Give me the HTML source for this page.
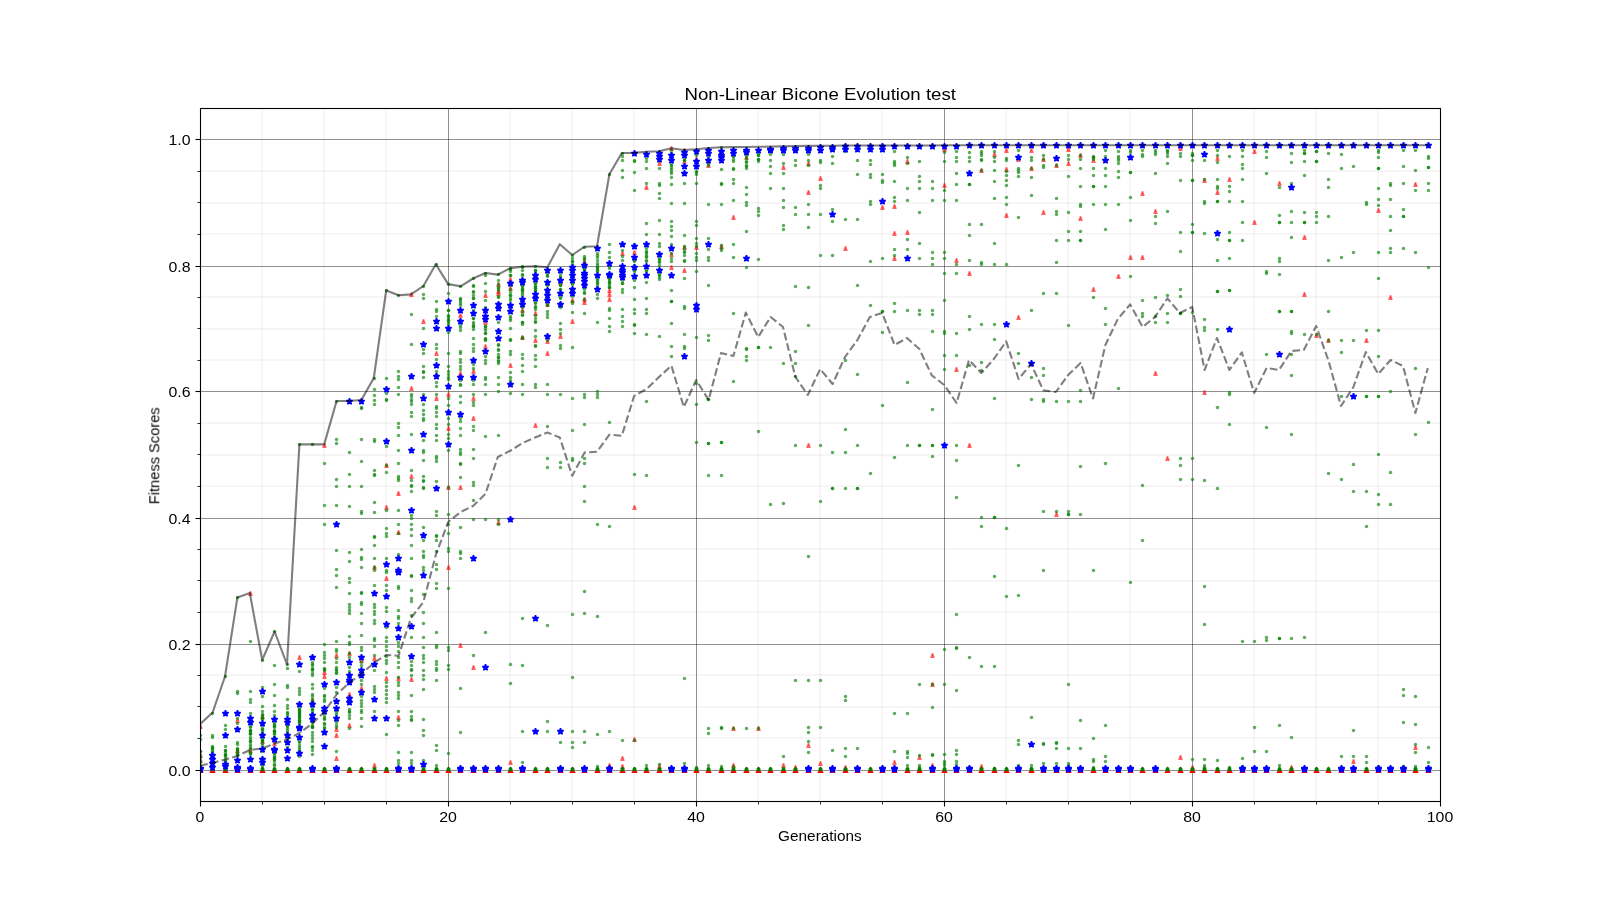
<!DOCTYPE html><html><head><meta charset="utf-8"><title>Non-Linear Bicone Evolution test</title>
<style>html,body{margin:0;padding:0;background:#fff;}body{width:1600px;height:900px;overflow:hidden;font-family:"Liberation Sans",sans-serif;}svg{display:block}text{font-family:"Liberation Sans",sans-serif;fill:#000}</style></head><body>
<svg width="1600" height="900" viewBox="0 0 1600 900">
<defs>
<clipPath id="c"><rect x="200.5" y="108.5" width="1240.0" height="693.0"/></clipPath>
<circle id="d" r="1.72" fill="#008000" fill-opacity="0.64"/>
<path id="t" d="M-0.25,-1.8L0.25,-1.8L1.47,1.9L-1.47,1.9Z" fill="#ff0000" fill-opacity="0.5" stroke="#ff0000" stroke-opacity="0.5" stroke-width="1.39" stroke-linejoin="miter"/>
<path id="s" d="M0.00,-3.30L0.74,-1.02L3.14,-1.02L1.20,0.39L1.94,2.67L0.00,1.26L-1.94,2.67L-1.20,0.39L-3.14,-1.02L-0.74,-1.02Z" fill="#0000ff" stroke="#0000ff" stroke-width="1.5" stroke-linejoin="bevel"/>
<path id="T" d="M0,-3.5L3.2,3.1L-3.2,3.1Z" fill="#ff0000"/>
<circle id="G" r="1.95" fill="#008000"/>
</defs>
<rect width="1600" height="900" fill="#fff"/>
<g stroke="#000" stroke-opacity="0.037" stroke-width="2">
<line x1="262.0" y1="108.5" x2="262.0" y2="801.5"/>
<line x1="324.0" y1="108.5" x2="324.0" y2="801.5"/>
<line x1="386.0" y1="108.5" x2="386.0" y2="801.5"/>
<line x1="510.0" y1="108.5" x2="510.0" y2="801.5"/>
<line x1="572.0" y1="108.5" x2="572.0" y2="801.5"/>
<line x1="634.0" y1="108.5" x2="634.0" y2="801.5"/>
<line x1="758.0" y1="108.5" x2="758.0" y2="801.5"/>
<line x1="820.0" y1="108.5" x2="820.0" y2="801.5"/>
<line x1="882.0" y1="108.5" x2="882.0" y2="801.5"/>
<line x1="1006.0" y1="108.5" x2="1006.0" y2="801.5"/>
<line x1="1068.0" y1="108.5" x2="1068.0" y2="801.5"/>
<line x1="1130.0" y1="108.5" x2="1130.0" y2="801.5"/>
<line x1="1254.0" y1="108.5" x2="1254.0" y2="801.5"/>
<line x1="1316.0" y1="108.5" x2="1316.0" y2="801.5"/>
<line x1="1378.0" y1="108.5" x2="1378.0" y2="801.5"/>
<line x1="200.5" y1="738.0" x2="1440.5" y2="738.0"/>
<line x1="200.5" y1="707.0" x2="1440.5" y2="707.0"/>
<line x1="200.5" y1="675.0" x2="1440.5" y2="675.0"/>
<line x1="200.5" y1="612.0" x2="1440.5" y2="612.0"/>
<line x1="200.5" y1="581.0" x2="1440.5" y2="581.0"/>
<line x1="200.5" y1="549.0" x2="1440.5" y2="549.0"/>
<line x1="200.5" y1="486.0" x2="1440.5" y2="486.0"/>
<line x1="200.5" y1="455.0" x2="1440.5" y2="455.0"/>
<line x1="200.5" y1="423.0" x2="1440.5" y2="423.0"/>
<line x1="200.5" y1="360.0" x2="1440.5" y2="360.0"/>
<line x1="200.5" y1="329.0" x2="1440.5" y2="329.0"/>
<line x1="200.5" y1="297.0" x2="1440.5" y2="297.0"/>
<line x1="200.5" y1="234.0" x2="1440.5" y2="234.0"/>
<line x1="200.5" y1="203.0" x2="1440.5" y2="203.0"/>
<line x1="200.5" y1="171.0" x2="1440.5" y2="171.0"/>
</g>
<g stroke="#000" stroke-opacity="0.43" stroke-width="1">
<line x1="448.5" y1="108.5" x2="448.5" y2="801.5"/>
<line x1="696.5" y1="108.5" x2="696.5" y2="801.5"/>
<line x1="944.5" y1="108.5" x2="944.5" y2="801.5"/>
<line x1="1192.5" y1="108.5" x2="1192.5" y2="801.5"/>
<line x1="200.5" y1="770.5" x2="1440.5" y2="770.5"/>
<line x1="200.5" y1="644.5" x2="1440.5" y2="644.5"/>
<line x1="200.5" y1="518.5" x2="1440.5" y2="518.5"/>
<line x1="200.5" y1="391.5" x2="1440.5" y2="391.5"/>
<line x1="200.5" y1="266.5" x2="1440.5" y2="266.5"/>
<line x1="200.5" y1="139.5" x2="1440.5" y2="139.5"/>
</g>
<g clip-path="url(#c)">
<use href="#T" x="200.5" y="769.9"/><use href="#T" x="212.5" y="769.9"/><use href="#T" x="225.5" y="769.9"/><use href="#T" x="237.5" y="769.9"/><use href="#T" x="250.5" y="769.9"/><use href="#T" x="262.5" y="769.9"/><use href="#T" x="274.5" y="769.9"/><use href="#T" x="287.5" y="769.9"/><use href="#T" x="299.5" y="769.9"/><use href="#T" x="312.5" y="769.9"/><use href="#T" x="324.5" y="769.9"/><use href="#T" x="336.5" y="769.9"/><use href="#T" x="349.5" y="769.9"/><use href="#T" x="361.5" y="769.9"/><use href="#T" x="374.5" y="769.9"/><use href="#T" x="386.5" y="769.9"/><use href="#T" x="398.5" y="769.9"/><use href="#T" x="411.5" y="769.9"/><use href="#T" x="423.5" y="769.9"/><use href="#T" x="436.5" y="769.9"/><use href="#T" x="448.5" y="769.9"/><use href="#T" x="460.5" y="769.9"/><use href="#T" x="473.5" y="769.9"/><use href="#T" x="485.5" y="769.9"/><use href="#T" x="498.5" y="769.9"/><use href="#T" x="510.5" y="769.9"/><use href="#T" x="522.5" y="769.9"/><use href="#T" x="535.5" y="769.9"/><use href="#T" x="547.5" y="769.9"/><use href="#T" x="560.5" y="769.9"/><use href="#T" x="572.5" y="769.9"/><use href="#T" x="584.5" y="769.9"/><use href="#T" x="597.5" y="769.9"/><use href="#T" x="609.5" y="769.9"/><use href="#T" x="622.5" y="769.9"/><use href="#T" x="634.5" y="769.9"/><use href="#T" x="646.5" y="769.9"/><use href="#T" x="659.5" y="769.9"/><use href="#T" x="671.5" y="769.9"/><use href="#T" x="684.5" y="769.9"/><use href="#T" x="696.5" y="769.9"/><use href="#T" x="708.5" y="769.9"/><use href="#T" x="721.5" y="769.9"/><use href="#T" x="733.5" y="769.9"/><use href="#T" x="746.5" y="769.9"/><use href="#T" x="758.5" y="769.9"/><use href="#T" x="770.5" y="769.9"/><use href="#T" x="783.5" y="769.9"/><use href="#T" x="795.5" y="769.9"/><use href="#T" x="808.5" y="769.9"/><use href="#T" x="820.5" y="769.9"/><use href="#T" x="832.5" y="769.9"/><use href="#T" x="845.5" y="769.9"/><use href="#T" x="857.5" y="769.9"/><use href="#T" x="870.5" y="769.9"/><use href="#T" x="882.5" y="769.9"/><use href="#T" x="894.5" y="769.9"/><use href="#T" x="907.5" y="769.9"/><use href="#T" x="919.5" y="769.9"/><use href="#T" x="932.5" y="769.9"/><use href="#T" x="944.5" y="769.9"/><use href="#T" x="956.5" y="769.9"/><use href="#T" x="969.5" y="769.9"/><use href="#T" x="981.5" y="769.9"/><use href="#T" x="994.5" y="769.9"/><use href="#T" x="1006.5" y="769.9"/><use href="#T" x="1018.5" y="769.9"/><use href="#T" x="1031.5" y="769.9"/><use href="#T" x="1043.5" y="769.9"/><use href="#T" x="1056.5" y="769.9"/><use href="#T" x="1068.5" y="769.9"/><use href="#T" x="1080.5" y="769.9"/><use href="#T" x="1093.5" y="769.9"/><use href="#T" x="1105.5" y="769.9"/><use href="#T" x="1118.5" y="769.9"/><use href="#T" x="1130.5" y="769.9"/><use href="#T" x="1142.5" y="769.9"/><use href="#T" x="1155.5" y="769.9"/><use href="#T" x="1167.5" y="769.9"/><use href="#T" x="1180.5" y="769.9"/><use href="#T" x="1192.5" y="769.9"/><use href="#T" x="1204.5" y="769.9"/><use href="#T" x="1217.5" y="769.9"/><use href="#T" x="1229.5" y="769.9"/><use href="#T" x="1242.5" y="769.9"/><use href="#T" x="1254.5" y="769.9"/><use href="#T" x="1266.5" y="769.9"/><use href="#T" x="1279.5" y="769.9"/><use href="#T" x="1291.5" y="769.9"/><use href="#T" x="1304.5" y="769.9"/><use href="#T" x="1316.5" y="769.9"/><use href="#T" x="1328.5" y="769.9"/><use href="#T" x="1341.5" y="769.9"/><use href="#T" x="1353.5" y="769.9"/><use href="#T" x="1366.5" y="769.9"/><use href="#T" x="1378.5" y="769.9"/><use href="#T" x="1390.5" y="769.9"/><use href="#T" x="1403.5" y="769.9"/><use href="#T" x="1415.5" y="769.9"/><use href="#T" x="1428.5" y="769.9"/>
<use href="#t" x="200.5" y="726.5"/><use href="#t" x="200.5" y="755.5"/><use href="#t" x="200.5" y="760.5"/><use href="#t" x="237.5" y="720.5"/><use href="#t" x="237.5" y="750.5"/><use href="#t" x="250.5" y="593.5"/><use href="#t" x="250.5" y="750.5"/><use href="#t" x="262.5" y="716.5"/><use href="#t" x="262.5" y="741.5"/><use href="#t" x="274.5" y="743.5"/><use href="#t" x="299.5" y="657.5"/><use href="#t" x="312.5" y="700.5"/><use href="#t" x="324.5" y="445.5"/><use href="#t" x="324.5" y="672.5"/><use href="#t" x="324.5" y="676.5"/><use href="#t" x="336.5" y="729.5"/><use href="#t" x="336.5" y="735.5"/><use href="#t" x="336.5" y="758.5"/><use href="#t" x="336.5" y="655.5"/><use href="#t" x="349.5" y="694.5"/><use href="#t" x="349.5" y="725.5"/><use href="#t" x="349.5" y="653.5"/><use href="#t" x="361.5" y="660.5"/><use href="#t" x="361.5" y="688.5"/><use href="#t" x="374.5" y="567.5"/><use href="#t" x="374.5" y="658.5"/><use href="#t" x="374.5" y="765.5"/><use href="#t" x="386.5" y="465.5"/><use href="#t" x="386.5" y="507.5"/><use href="#t" x="386.5" y="578.5"/><use href="#t" x="386.5" y="678.5"/><use href="#t" x="398.5" y="493.5"/><use href="#t" x="398.5" y="532.5"/><use href="#t" x="398.5" y="678.5"/><use href="#t" x="398.5" y="717.5"/><use href="#t" x="411.5" y="294.5"/><use href="#t" x="411.5" y="388.5"/><use href="#t" x="411.5" y="476.5"/><use href="#t" x="411.5" y="679.5"/><use href="#t" x="423.5" y="321.5"/><use href="#t" x="436.5" y="353.5"/><use href="#t" x="436.5" y="398.5"/><use href="#t" x="448.5" y="394.5"/><use href="#t" x="448.5" y="428.5"/><use href="#t" x="448.5" y="487.5"/><use href="#t" x="448.5" y="567.5"/><use href="#t" x="460.5" y="315.5"/><use href="#t" x="460.5" y="373.5"/><use href="#t" x="460.5" y="487.5"/><use href="#t" x="460.5" y="645.5"/><use href="#t" x="473.5" y="371.5"/><use href="#t" x="473.5" y="398.5"/><use href="#t" x="473.5" y="418.5"/><use href="#t" x="473.5" y="667.5"/><use href="#t" x="485.5" y="295.5"/><use href="#t" x="485.5" y="322.5"/><use href="#t" x="485.5" y="346.5"/><use href="#t" x="498.5" y="284.5"/><use href="#t" x="498.5" y="291.5"/><use href="#t" x="498.5" y="293.5"/><use href="#t" x="498.5" y="522.5"/><use href="#t" x="510.5" y="288.5"/><use href="#t" x="510.5" y="365.5"/><use href="#t" x="510.5" y="762.5"/><use href="#t" x="510.5" y="279.5"/><use href="#t" x="522.5" y="310.5"/><use href="#t" x="522.5" y="337.5"/><use href="#t" x="535.5" y="313.5"/><use href="#t" x="535.5" y="340.5"/><use href="#t" x="535.5" y="425.5"/><use href="#t" x="547.5" y="304.5"/><use href="#t" x="547.5" y="341.5"/><use href="#t" x="547.5" y="353.5"/><use href="#t" x="560.5" y="282.5"/><use href="#t" x="560.5" y="336.5"/><use href="#t" x="572.5" y="300.5"/><use href="#t" x="572.5" y="321.5"/><use href="#t" x="584.5" y="261.5"/><use href="#t" x="584.5" y="299.5"/><use href="#t" x="584.5" y="302.5"/><use href="#t" x="609.5" y="290.5"/><use href="#t" x="609.5" y="294.5"/><use href="#t" x="609.5" y="299.5"/><use href="#t" x="609.5" y="765.5"/><use href="#t" x="622.5" y="253.5"/><use href="#t" x="622.5" y="758.5"/><use href="#t" x="622.5" y="766.5"/><use href="#t" x="634.5" y="252.5"/><use href="#t" x="634.5" y="507.5"/><use href="#t" x="634.5" y="739.5"/><use href="#t" x="646.5" y="187.5"/><use href="#t" x="659.5" y="766.5"/><use href="#t" x="659.5" y="163.5"/><use href="#t" x="671.5" y="148.5"/><use href="#t" x="671.5" y="254.5"/><use href="#t" x="671.5" y="267.5"/><use href="#t" x="684.5" y="150.5"/><use href="#t" x="684.5" y="161.5"/><use href="#t" x="684.5" y="247.5"/><use href="#t" x="684.5" y="270.5"/><use href="#t" x="696.5" y="159.5"/><use href="#t" x="696.5" y="247.5"/><use href="#t" x="708.5" y="165.5"/><use href="#t" x="721.5" y="246.5"/><use href="#t" x="733.5" y="728.5"/><use href="#t" x="733.5" y="765.5"/><use href="#t" x="733.5" y="217.5"/><use href="#t" x="746.5" y="157.5"/><use href="#t" x="758.5" y="728.5"/><use href="#t" x="783.5" y="765.5"/><use href="#t" x="783.5" y="167.5"/><use href="#t" x="795.5" y="767.5"/><use href="#t" x="808.5" y="745.5"/><use href="#t" x="808.5" y="163.5"/><use href="#t" x="808.5" y="192.5"/><use href="#t" x="808.5" y="445.5"/><use href="#t" x="820.5" y="763.5"/><use href="#t" x="820.5" y="178.5"/><use href="#t" x="845.5" y="767.5"/><use href="#t" x="845.5" y="248.5"/><use href="#t" x="882.5" y="207.5"/><use href="#t" x="894.5" y="762.5"/><use href="#t" x="894.5" y="206.5"/><use href="#t" x="894.5" y="233.5"/><use href="#t" x="894.5" y="258.5"/><use href="#t" x="907.5" y="161.5"/><use href="#t" x="907.5" y="232.5"/><use href="#t" x="919.5" y="757.5"/><use href="#t" x="932.5" y="655.5"/><use href="#t" x="932.5" y="684.5"/><use href="#t" x="932.5" y="765.5"/><use href="#t" x="944.5" y="149.5"/><use href="#t" x="944.5" y="185.5"/><use href="#t" x="956.5" y="260.5"/><use href="#t" x="956.5" y="369.5"/><use href="#t" x="969.5" y="273.5"/><use href="#t" x="969.5" y="445.5"/><use href="#t" x="981.5" y="766.5"/><use href="#t" x="981.5" y="170.5"/><use href="#t" x="994.5" y="154.5"/><use href="#t" x="1006.5" y="150.5"/><use href="#t" x="1006.5" y="169.5"/><use href="#t" x="1006.5" y="215.5"/><use href="#t" x="1018.5" y="159.5"/><use href="#t" x="1018.5" y="317.5"/><use href="#t" x="1031.5" y="150.5"/><use href="#t" x="1031.5" y="168.5"/><use href="#t" x="1043.5" y="159.5"/><use href="#t" x="1043.5" y="212.5"/><use href="#t" x="1056.5" y="165.5"/><use href="#t" x="1056.5" y="514.5"/><use href="#t" x="1068.5" y="149.5"/><use href="#t" x="1068.5" y="163.5"/><use href="#t" x="1080.5" y="155.5"/><use href="#t" x="1080.5" y="218.5"/><use href="#t" x="1093.5" y="160.5"/><use href="#t" x="1093.5" y="289.5"/><use href="#t" x="1118.5" y="276.5"/><use href="#t" x="1130.5" y="257.5"/><use href="#t" x="1142.5" y="193.5"/><use href="#t" x="1142.5" y="257.5"/><use href="#t" x="1155.5" y="211.5"/><use href="#t" x="1155.5" y="373.5"/><use href="#t" x="1167.5" y="458.5"/><use href="#t" x="1180.5" y="757.5"/><use href="#t" x="1180.5" y="148.5"/><use href="#t" x="1192.5" y="767.5"/><use href="#t" x="1204.5" y="180.5"/><use href="#t" x="1204.5" y="392.5"/><use href="#t" x="1217.5" y="158.5"/><use href="#t" x="1217.5" y="192.5"/><use href="#t" x="1229.5" y="179.5"/><use href="#t" x="1254.5" y="151.5"/><use href="#t" x="1254.5" y="222.5"/><use href="#t" x="1279.5" y="183.5"/><use href="#t" x="1291.5" y="767.5"/><use href="#t" x="1304.5" y="237.5"/><use href="#t" x="1304.5" y="294.5"/><use href="#t" x="1316.5" y="335.5"/><use href="#t" x="1328.5" y="340.5"/><use href="#t" x="1353.5" y="761.5"/><use href="#t" x="1366.5" y="340.5"/><use href="#t" x="1378.5" y="210.5"/><use href="#t" x="1390.5" y="297.5"/><use href="#t" x="1415.5" y="747.5"/><use href="#t" x="1415.5" y="184.5"/>
<use href="#d" x="200.5" y="735.5"/><use href="#d" x="200.5" y="739.5"/><use href="#d" x="200.5" y="751.5"/><use href="#d" x="200.5" y="757.5"/><use href="#d" x="200.5" y="762.5"/><use href="#d" x="200.5" y="766.5"/><use href="#d" x="200.5" y="751.5"/><use href="#d" x="200.5" y="755.5"/><use href="#d" x="200.5" y="760.5"/><use href="#d" x="200.5" y="766.5"/><use href="#d" x="200.5" y="768.5"/><use href="#d" x="212.5" y="713.5"/><use href="#d" x="212.5" y="735.5"/><use href="#d" x="212.5" y="737.5"/><use href="#d" x="212.5" y="746.5"/><use href="#d" x="212.5" y="748.5"/><use href="#d" x="212.5" y="749.5"/><use href="#d" x="212.5" y="751.5"/><use href="#d" x="212.5" y="747.5"/><use href="#d" x="212.5" y="752.5"/><use href="#d" x="212.5" y="755.5"/><use href="#d" x="212.5" y="762.5"/><use href="#d" x="212.5" y="764.5"/><use href="#d" x="212.5" y="768.5"/><use href="#d" x="225.5" y="725.5"/><use href="#d" x="225.5" y="729.5"/><use href="#d" x="225.5" y="746.5"/><use href="#d" x="225.5" y="750.5"/><use href="#d" x="225.5" y="752.5"/><use href="#d" x="225.5" y="754.5"/><use href="#d" x="225.5" y="755.5"/><use href="#d" x="225.5" y="757.5"/><use href="#d" x="225.5" y="676.5"/><use href="#d" x="225.5" y="750.5"/><use href="#d" x="225.5" y="755.5"/><use href="#d" x="225.5" y="760.5"/><use href="#d" x="225.5" y="761.5"/><use href="#d" x="225.5" y="766.5"/><use href="#d" x="225.5" y="768.5"/><use href="#d" x="237.5" y="597.5"/><use href="#d" x="237.5" y="691.5"/><use href="#d" x="237.5" y="693.5"/><use href="#d" x="237.5" y="718.5"/><use href="#d" x="237.5" y="723.5"/><use href="#d" x="237.5" y="742.5"/><use href="#d" x="237.5" y="744.5"/><use href="#d" x="237.5" y="748.5"/><use href="#d" x="237.5" y="749.5"/><use href="#d" x="237.5" y="752.5"/><use href="#d" x="237.5" y="754.5"/><use href="#d" x="237.5" y="755.5"/><use href="#d" x="237.5" y="750.5"/><use href="#d" x="237.5" y="753.5"/><use href="#d" x="237.5" y="760.5"/><use href="#d" x="237.5" y="767.5"/><use href="#d" x="237.5" y="768.5"/><use href="#d" x="250.5" y="691.5"/><use href="#d" x="250.5" y="699.5"/><use href="#d" x="250.5" y="702.5"/><use href="#d" x="250.5" y="713.5"/><use href="#d" x="250.5" y="726.5"/><use href="#d" x="250.5" y="727.5"/><use href="#d" x="250.5" y="730.5"/><use href="#d" x="250.5" y="731.5"/><use href="#d" x="250.5" y="733.5"/><use href="#d" x="250.5" y="734.5"/><use href="#d" x="250.5" y="737.5"/><use href="#d" x="250.5" y="739.5"/><use href="#d" x="250.5" y="741.5"/><use href="#d" x="250.5" y="746.5"/><use href="#d" x="250.5" y="748.5"/><use href="#d" x="250.5" y="749.5"/><use href="#d" x="250.5" y="752.5"/><use href="#d" x="250.5" y="753.5"/><use href="#d" x="250.5" y="641.5"/><use href="#d" x="250.5" y="730.5"/><use href="#d" x="250.5" y="733.5"/><use href="#d" x="250.5" y="741.5"/><use href="#d" x="250.5" y="744.5"/><use href="#d" x="250.5" y="754.5"/><use href="#d" x="250.5" y="768.5"/><use href="#d" x="262.5" y="696.5"/><use href="#d" x="262.5" y="706.5"/><use href="#d" x="262.5" y="711.5"/><use href="#d" x="262.5" y="714.5"/><use href="#d" x="262.5" y="715.5"/><use href="#d" x="262.5" y="717.5"/><use href="#d" x="262.5" y="719.5"/><use href="#d" x="262.5" y="728.5"/><use href="#d" x="262.5" y="729.5"/><use href="#d" x="262.5" y="730.5"/><use href="#d" x="262.5" y="732.5"/><use href="#d" x="262.5" y="738.5"/><use href="#d" x="262.5" y="740.5"/><use href="#d" x="262.5" y="741.5"/><use href="#d" x="262.5" y="743.5"/><use href="#d" x="262.5" y="745.5"/><use href="#d" x="262.5" y="764.5"/><use href="#d" x="262.5" y="766.5"/><use href="#d" x="262.5" y="660.5"/><use href="#d" x="262.5" y="687.5"/><use href="#d" x="262.5" y="718.5"/><use href="#d" x="262.5" y="725.5"/><use href="#d" x="262.5" y="735.5"/><use href="#d" x="262.5" y="740.5"/><use href="#d" x="262.5" y="751.5"/><use href="#d" x="262.5" y="758.5"/><use href="#d" x="262.5" y="768.5"/><use href="#d" x="274.5" y="631.5"/><use href="#d" x="274.5" y="695.5"/><use href="#d" x="274.5" y="705.5"/><use href="#d" x="274.5" y="711.5"/><use href="#d" x="274.5" y="715.5"/><use href="#d" x="274.5" y="722.5"/><use href="#d" x="274.5" y="724.5"/><use href="#d" x="274.5" y="726.5"/><use href="#d" x="274.5" y="727.5"/><use href="#d" x="274.5" y="730.5"/><use href="#d" x="274.5" y="731.5"/><use href="#d" x="274.5" y="733.5"/><use href="#d" x="274.5" y="734.5"/><use href="#d" x="274.5" y="737.5"/><use href="#d" x="274.5" y="752.5"/><use href="#d" x="274.5" y="755.5"/><use href="#d" x="274.5" y="757.5"/><use href="#d" x="274.5" y="757.5"/><use href="#d" x="274.5" y="759.5"/><use href="#d" x="274.5" y="761.5"/><use href="#d" x="274.5" y="764.5"/><use href="#d" x="274.5" y="665.5"/><use href="#d" x="274.5" y="684.5"/><use href="#d" x="274.5" y="725.5"/><use href="#d" x="274.5" y="731.5"/><use href="#d" x="274.5" y="737.5"/><use href="#d" x="274.5" y="740.5"/><use href="#d" x="274.5" y="750.5"/><use href="#d" x="274.5" y="753.5"/><use href="#d" x="274.5" y="759.5"/><use href="#d" x="274.5" y="765.5"/><use href="#d" x="274.5" y="768.5"/><use href="#d" x="287.5" y="699.5"/><use href="#d" x="287.5" y="705.5"/><use href="#d" x="287.5" y="708.5"/><use href="#d" x="287.5" y="712.5"/><use href="#d" x="287.5" y="713.5"/><use href="#d" x="287.5" y="715.5"/><use href="#d" x="287.5" y="725.5"/><use href="#d" x="287.5" y="726.5"/><use href="#d" x="287.5" y="728.5"/><use href="#d" x="287.5" y="730.5"/><use href="#d" x="287.5" y="732.5"/><use href="#d" x="287.5" y="735.5"/><use href="#d" x="287.5" y="738.5"/><use href="#d" x="287.5" y="743.5"/><use href="#d" x="287.5" y="747.5"/><use href="#d" x="287.5" y="664.5"/><use href="#d" x="287.5" y="668.5"/><use href="#d" x="287.5" y="685.5"/><use href="#d" x="287.5" y="687.5"/><use href="#d" x="287.5" y="768.5"/><use href="#d" x="299.5" y="444.5"/><use href="#d" x="299.5" y="691.5"/><use href="#d" x="299.5" y="694.5"/><use href="#d" x="299.5" y="708.5"/><use href="#d" x="299.5" y="710.5"/><use href="#d" x="299.5" y="712.5"/><use href="#d" x="299.5" y="713.5"/><use href="#d" x="299.5" y="715.5"/><use href="#d" x="299.5" y="717.5"/><use href="#d" x="299.5" y="718.5"/><use href="#d" x="299.5" y="720.5"/><use href="#d" x="299.5" y="721.5"/><use href="#d" x="299.5" y="722.5"/><use href="#d" x="299.5" y="741.5"/><use href="#d" x="299.5" y="742.5"/><use href="#d" x="299.5" y="745.5"/><use href="#d" x="299.5" y="747.5"/><use href="#d" x="299.5" y="749.5"/><use href="#d" x="299.5" y="751.5"/><use href="#d" x="299.5" y="756.5"/><use href="#d" x="299.5" y="671.5"/><use href="#d" x="299.5" y="688.5"/><use href="#d" x="299.5" y="709.5"/><use href="#d" x="299.5" y="711.5"/><use href="#d" x="299.5" y="714.5"/><use href="#d" x="299.5" y="716.5"/><use href="#d" x="299.5" y="720.5"/><use href="#d" x="299.5" y="723.5"/><use href="#d" x="299.5" y="768.5"/><use href="#d" x="312.5" y="444.5"/><use href="#d" x="312.5" y="694.5"/><use href="#d" x="312.5" y="696.5"/><use href="#d" x="312.5" y="699.5"/><use href="#d" x="312.5" y="701.5"/><use href="#d" x="312.5" y="702.5"/><use href="#d" x="312.5" y="706.5"/><use href="#d" x="312.5" y="709.5"/><use href="#d" x="312.5" y="711.5"/><use href="#d" x="312.5" y="714.5"/><use href="#d" x="312.5" y="716.5"/><use href="#d" x="312.5" y="718.5"/><use href="#d" x="312.5" y="720.5"/><use href="#d" x="312.5" y="722.5"/><use href="#d" x="312.5" y="726.5"/><use href="#d" x="312.5" y="727.5"/><use href="#d" x="312.5" y="732.5"/><use href="#d" x="312.5" y="735.5"/><use href="#d" x="312.5" y="738.5"/><use href="#d" x="312.5" y="741.5"/><use href="#d" x="312.5" y="746.5"/><use href="#d" x="312.5" y="747.5"/><use href="#d" x="312.5" y="750.5"/><use href="#d" x="312.5" y="754.5"/><use href="#d" x="312.5" y="662.5"/><use href="#d" x="312.5" y="664.5"/><use href="#d" x="312.5" y="665.5"/><use href="#d" x="312.5" y="668.5"/><use href="#d" x="312.5" y="669.5"/><use href="#d" x="312.5" y="670.5"/><use href="#d" x="312.5" y="673.5"/><use href="#d" x="312.5" y="675.5"/><use href="#d" x="312.5" y="684.5"/><use href="#d" x="312.5" y="688.5"/><use href="#d" x="312.5" y="702.5"/><use href="#d" x="312.5" y="704.5"/><use href="#d" x="312.5" y="709.5"/><use href="#d" x="312.5" y="713.5"/><use href="#d" x="312.5" y="717.5"/><use href="#d" x="312.5" y="721.5"/><use href="#d" x="312.5" y="725.5"/><use href="#d" x="312.5" y="727.5"/><use href="#d" x="312.5" y="768.5"/><use href="#d" x="324.5" y="463.5"/><use href="#d" x="324.5" y="505.5"/><use href="#d" x="324.5" y="524.5"/><use href="#d" x="324.5" y="695.5"/><use href="#d" x="324.5" y="696.5"/><use href="#d" x="324.5" y="699.5"/><use href="#d" x="324.5" y="701.5"/><use href="#d" x="324.5" y="713.5"/><use href="#d" x="324.5" y="716.5"/><use href="#d" x="324.5" y="718.5"/><use href="#d" x="324.5" y="719.5"/><use href="#d" x="324.5" y="723.5"/><use href="#d" x="324.5" y="724.5"/><use href="#d" x="324.5" y="727.5"/><use href="#d" x="324.5" y="728.5"/><use href="#d" x="324.5" y="644.5"/><use href="#d" x="324.5" y="652.5"/><use href="#d" x="324.5" y="655.5"/><use href="#d" x="324.5" y="658.5"/><use href="#d" x="324.5" y="662.5"/><use href="#d" x="324.5" y="668.5"/><use href="#d" x="324.5" y="669.5"/><use href="#d" x="324.5" y="670.5"/><use href="#d" x="324.5" y="688.5"/><use href="#d" x="324.5" y="768.5"/><use href="#d" x="336.5" y="401.5"/><use href="#d" x="336.5" y="439.5"/><use href="#d" x="336.5" y="443.5"/><use href="#d" x="336.5" y="479.5"/><use href="#d" x="336.5" y="486.5"/><use href="#d" x="336.5" y="505.5"/><use href="#d" x="336.5" y="550.5"/><use href="#d" x="336.5" y="569.5"/><use href="#d" x="336.5" y="575.5"/><use href="#d" x="336.5" y="587.5"/><use href="#d" x="336.5" y="692.5"/><use href="#d" x="336.5" y="710.5"/><use href="#d" x="336.5" y="712.5"/><use href="#d" x="336.5" y="714.5"/><use href="#d" x="336.5" y="720.5"/><use href="#d" x="336.5" y="722.5"/><use href="#d" x="336.5" y="725.5"/><use href="#d" x="336.5" y="727.5"/><use href="#d" x="336.5" y="751.5"/><use href="#d" x="336.5" y="641.5"/><use href="#d" x="336.5" y="649.5"/><use href="#d" x="336.5" y="651.5"/><use href="#d" x="336.5" y="658.5"/><use href="#d" x="336.5" y="662.5"/><use href="#d" x="336.5" y="667.5"/><use href="#d" x="336.5" y="669.5"/><use href="#d" x="336.5" y="670.5"/><use href="#d" x="336.5" y="672.5"/><use href="#d" x="336.5" y="673.5"/><use href="#d" x="336.5" y="687.5"/><use href="#d" x="336.5" y="768.5"/><use href="#d" x="349.5" y="452.5"/><use href="#d" x="349.5" y="474.5"/><use href="#d" x="349.5" y="486.5"/><use href="#d" x="349.5" y="506.5"/><use href="#d" x="349.5" y="552.5"/><use href="#d" x="349.5" y="561.5"/><use href="#d" x="349.5" y="578.5"/><use href="#d" x="349.5" y="582.5"/><use href="#d" x="349.5" y="593.5"/><use href="#d" x="349.5" y="604.5"/><use href="#d" x="349.5" y="607.5"/><use href="#d" x="349.5" y="610.5"/><use href="#d" x="349.5" y="613.5"/><use href="#d" x="349.5" y="709.5"/><use href="#d" x="349.5" y="711.5"/><use href="#d" x="349.5" y="712.5"/><use href="#d" x="349.5" y="715.5"/><use href="#d" x="349.5" y="718.5"/><use href="#d" x="349.5" y="728.5"/><use href="#d" x="349.5" y="636.5"/><use href="#d" x="349.5" y="642.5"/><use href="#d" x="349.5" y="644.5"/><use href="#d" x="349.5" y="653.5"/><use href="#d" x="349.5" y="657.5"/><use href="#d" x="349.5" y="667.5"/><use href="#d" x="349.5" y="671.5"/><use href="#d" x="349.5" y="768.5"/><use href="#d" x="361.5" y="407.5"/><use href="#d" x="361.5" y="408.5"/><use href="#d" x="361.5" y="439.5"/><use href="#d" x="361.5" y="461.5"/><use href="#d" x="361.5" y="486.5"/><use href="#d" x="361.5" y="511.5"/><use href="#d" x="361.5" y="513.5"/><use href="#d" x="361.5" y="549.5"/><use href="#d" x="361.5" y="557.5"/><use href="#d" x="361.5" y="559.5"/><use href="#d" x="361.5" y="567.5"/><use href="#d" x="361.5" y="592.5"/><use href="#d" x="361.5" y="593.5"/><use href="#d" x="361.5" y="602.5"/><use href="#d" x="361.5" y="604.5"/><use href="#d" x="361.5" y="613.5"/><use href="#d" x="361.5" y="623.5"/><use href="#d" x="361.5" y="635.5"/><use href="#d" x="361.5" y="647.5"/><use href="#d" x="361.5" y="650.5"/><use href="#d" x="361.5" y="662.5"/><use href="#d" x="361.5" y="665.5"/><use href="#d" x="361.5" y="680.5"/><use href="#d" x="361.5" y="684.5"/><use href="#d" x="361.5" y="696.5"/><use href="#d" x="361.5" y="700.5"/><use href="#d" x="361.5" y="703.5"/><use href="#d" x="361.5" y="706.5"/><use href="#d" x="361.5" y="710.5"/><use href="#d" x="361.5" y="712.5"/><use href="#d" x="361.5" y="718.5"/><use href="#d" x="361.5" y="726.5"/><use href="#d" x="361.5" y="768.5"/><use href="#d" x="374.5" y="378.5"/><use href="#d" x="374.5" y="389.5"/><use href="#d" x="374.5" y="395.5"/><use href="#d" x="374.5" y="400.5"/><use href="#d" x="374.5" y="404.5"/><use href="#d" x="374.5" y="439.5"/><use href="#d" x="374.5" y="441.5"/><use href="#d" x="374.5" y="470.5"/><use href="#d" x="374.5" y="474.5"/><use href="#d" x="374.5" y="475.5"/><use href="#d" x="374.5" y="502.5"/><use href="#d" x="374.5" y="512.5"/><use href="#d" x="374.5" y="536.5"/><use href="#d" x="374.5" y="537.5"/><use href="#d" x="374.5" y="545.5"/><use href="#d" x="374.5" y="558.5"/><use href="#d" x="374.5" y="567.5"/><use href="#d" x="374.5" y="570.5"/><use href="#d" x="374.5" y="585.5"/><use href="#d" x="374.5" y="604.5"/><use href="#d" x="374.5" y="607.5"/><use href="#d" x="374.5" y="611.5"/><use href="#d" x="374.5" y="614.5"/><use href="#d" x="374.5" y="620.5"/><use href="#d" x="374.5" y="623.5"/><use href="#d" x="374.5" y="638.5"/><use href="#d" x="374.5" y="640.5"/><use href="#d" x="374.5" y="646.5"/><use href="#d" x="374.5" y="655.5"/><use href="#d" x="374.5" y="670.5"/><use href="#d" x="374.5" y="686.5"/><use href="#d" x="374.5" y="689.5"/><use href="#d" x="374.5" y="692.5"/><use href="#d" x="374.5" y="711.5"/><use href="#d" x="374.5" y="768.5"/><use href="#d" x="386.5" y="290.5"/><use href="#d" x="386.5" y="378.5"/><use href="#d" x="386.5" y="393.5"/><use href="#d" x="386.5" y="399.5"/><use href="#d" x="386.5" y="400.5"/><use href="#d" x="386.5" y="446.5"/><use href="#d" x="386.5" y="465.5"/><use href="#d" x="386.5" y="472.5"/><use href="#d" x="386.5" y="510.5"/><use href="#d" x="386.5" y="528.5"/><use href="#d" x="386.5" y="533.5"/><use href="#d" x="386.5" y="536.5"/><use href="#d" x="386.5" y="558.5"/><use href="#d" x="386.5" y="570.5"/><use href="#d" x="386.5" y="572.5"/><use href="#d" x="386.5" y="585.5"/><use href="#d" x="386.5" y="590.5"/><use href="#d" x="386.5" y="607.5"/><use href="#d" x="386.5" y="611.5"/><use href="#d" x="386.5" y="627.5"/><use href="#d" x="386.5" y="637.5"/><use href="#d" x="386.5" y="641.5"/><use href="#d" x="386.5" y="646.5"/><use href="#d" x="386.5" y="650.5"/><use href="#d" x="386.5" y="656.5"/><use href="#d" x="386.5" y="660.5"/><use href="#d" x="386.5" y="663.5"/><use href="#d" x="386.5" y="672.5"/><use href="#d" x="386.5" y="682.5"/><use href="#d" x="386.5" y="686.5"/><use href="#d" x="386.5" y="690.5"/><use href="#d" x="386.5" y="694.5"/><use href="#d" x="386.5" y="698.5"/><use href="#d" x="386.5" y="702.5"/><use href="#d" x="386.5" y="734.5"/><use href="#d" x="386.5" y="768.5"/><use href="#d" x="398.5" y="295.5"/><use href="#d" x="398.5" y="371.5"/><use href="#d" x="398.5" y="376.5"/><use href="#d" x="398.5" y="379.5"/><use href="#d" x="398.5" y="387.5"/><use href="#d" x="398.5" y="394.5"/><use href="#d" x="398.5" y="423.5"/><use href="#d" x="398.5" y="427.5"/><use href="#d" x="398.5" y="435.5"/><use href="#d" x="398.5" y="450.5"/><use href="#d" x="398.5" y="463.5"/><use href="#d" x="398.5" y="476.5"/><use href="#d" x="398.5" y="478.5"/><use href="#d" x="398.5" y="480.5"/><use href="#d" x="398.5" y="510.5"/><use href="#d" x="398.5" y="524.5"/><use href="#d" x="398.5" y="533.5"/><use href="#d" x="398.5" y="554.5"/><use href="#d" x="398.5" y="586.5"/><use href="#d" x="398.5" y="588.5"/><use href="#d" x="398.5" y="610.5"/><use href="#d" x="398.5" y="616.5"/><use href="#d" x="398.5" y="618.5"/><use href="#d" x="398.5" y="623.5"/><use href="#d" x="398.5" y="642.5"/><use href="#d" x="398.5" y="646.5"/><use href="#d" x="398.5" y="651.5"/><use href="#d" x="398.5" y="657.5"/><use href="#d" x="398.5" y="662.5"/><use href="#d" x="398.5" y="667.5"/><use href="#d" x="398.5" y="677.5"/><use href="#d" x="398.5" y="682.5"/><use href="#d" x="398.5" y="685.5"/><use href="#d" x="398.5" y="692.5"/><use href="#d" x="398.5" y="695.5"/><use href="#d" x="398.5" y="698.5"/><use href="#d" x="398.5" y="711.5"/><use href="#d" x="398.5" y="720.5"/><use href="#d" x="398.5" y="725.5"/><use href="#d" x="398.5" y="752.5"/><use href="#d" x="398.5" y="760.5"/><use href="#d" x="398.5" y="763.5"/><use href="#d" x="398.5" y="768.5"/><use href="#d" x="411.5" y="314.5"/><use href="#d" x="411.5" y="344.5"/><use href="#d" x="411.5" y="394.5"/><use href="#d" x="411.5" y="396.5"/><use href="#d" x="411.5" y="399.5"/><use href="#d" x="411.5" y="401.5"/><use href="#d" x="411.5" y="404.5"/><use href="#d" x="411.5" y="412.5"/><use href="#d" x="411.5" y="416.5"/><use href="#d" x="411.5" y="434.5"/><use href="#d" x="411.5" y="470.5"/><use href="#d" x="411.5" y="480.5"/><use href="#d" x="411.5" y="485.5"/><use href="#d" x="411.5" y="486.5"/><use href="#d" x="411.5" y="491.5"/><use href="#d" x="411.5" y="515.5"/><use href="#d" x="411.5" y="518.5"/><use href="#d" x="411.5" y="524.5"/><use href="#d" x="411.5" y="529.5"/><use href="#d" x="411.5" y="535.5"/><use href="#d" x="411.5" y="545.5"/><use href="#d" x="411.5" y="558.5"/><use href="#d" x="411.5" y="575.5"/><use href="#d" x="411.5" y="576.5"/><use href="#d" x="411.5" y="590.5"/><use href="#d" x="411.5" y="598.5"/><use href="#d" x="411.5" y="601.5"/><use href="#d" x="411.5" y="615.5"/><use href="#d" x="411.5" y="637.5"/><use href="#d" x="411.5" y="661.5"/><use href="#d" x="411.5" y="665.5"/><use href="#d" x="411.5" y="669.5"/><use href="#d" x="411.5" y="670.5"/><use href="#d" x="411.5" y="675.5"/><use href="#d" x="411.5" y="695.5"/><use href="#d" x="411.5" y="711.5"/><use href="#d" x="411.5" y="716.5"/><use href="#d" x="411.5" y="719.5"/><use href="#d" x="411.5" y="720.5"/><use href="#d" x="411.5" y="752.5"/><use href="#d" x="411.5" y="760.5"/><use href="#d" x="411.5" y="763.5"/><use href="#d" x="411.5" y="768.5"/><use href="#d" x="423.5" y="286.5"/><use href="#d" x="423.5" y="294.5"/><use href="#d" x="423.5" y="298.5"/><use href="#d" x="423.5" y="328.5"/><use href="#d" x="423.5" y="349.5"/><use href="#d" x="423.5" y="353.5"/><use href="#d" x="423.5" y="366.5"/><use href="#d" x="423.5" y="371.5"/><use href="#d" x="423.5" y="372.5"/><use href="#d" x="423.5" y="377.5"/><use href="#d" x="423.5" y="394.5"/><use href="#d" x="423.5" y="404.5"/><use href="#d" x="423.5" y="410.5"/><use href="#d" x="423.5" y="414.5"/><use href="#d" x="423.5" y="418.5"/><use href="#d" x="423.5" y="420.5"/><use href="#d" x="423.5" y="440.5"/><use href="#d" x="423.5" y="450.5"/><use href="#d" x="423.5" y="452.5"/><use href="#d" x="423.5" y="460.5"/><use href="#d" x="423.5" y="476.5"/><use href="#d" x="423.5" y="480.5"/><use href="#d" x="423.5" y="481.5"/><use href="#d" x="423.5" y="487.5"/><use href="#d" x="423.5" y="488.5"/><use href="#d" x="423.5" y="527.5"/><use href="#d" x="423.5" y="540.5"/><use href="#d" x="423.5" y="551.5"/><use href="#d" x="423.5" y="555.5"/><use href="#d" x="423.5" y="557.5"/><use href="#d" x="423.5" y="567.5"/><use href="#d" x="423.5" y="570.5"/><use href="#d" x="423.5" y="594.5"/><use href="#d" x="423.5" y="612.5"/><use href="#d" x="423.5" y="623.5"/><use href="#d" x="423.5" y="637.5"/><use href="#d" x="423.5" y="647.5"/><use href="#d" x="423.5" y="655.5"/><use href="#d" x="423.5" y="658.5"/><use href="#d" x="423.5" y="662.5"/><use href="#d" x="423.5" y="670.5"/><use href="#d" x="423.5" y="675.5"/><use href="#d" x="423.5" y="679.5"/><use href="#d" x="423.5" y="689.5"/><use href="#d" x="423.5" y="719.5"/><use href="#d" x="423.5" y="730.5"/><use href="#d" x="423.5" y="735.5"/><use href="#d" x="423.5" y="760.5"/><use href="#d" x="423.5" y="768.5"/><use href="#d" x="436.5" y="301.5"/><use href="#d" x="436.5" y="309.5"/><use href="#d" x="436.5" y="311.5"/><use href="#d" x="436.5" y="316.5"/><use href="#d" x="436.5" y="344.5"/><use href="#d" x="436.5" y="348.5"/><use href="#d" x="436.5" y="359.5"/><use href="#d" x="436.5" y="371.5"/><use href="#d" x="436.5" y="374.5"/><use href="#d" x="436.5" y="382.5"/><use href="#d" x="436.5" y="386.5"/><use href="#d" x="436.5" y="394.5"/><use href="#d" x="436.5" y="406.5"/><use href="#d" x="436.5" y="408.5"/><use href="#d" x="436.5" y="412.5"/><use href="#d" x="436.5" y="416.5"/><use href="#d" x="436.5" y="424.5"/><use href="#d" x="436.5" y="428.5"/><use href="#d" x="436.5" y="435.5"/><use href="#d" x="436.5" y="440.5"/><use href="#d" x="436.5" y="456.5"/><use href="#d" x="436.5" y="458.5"/><use href="#d" x="436.5" y="461.5"/><use href="#d" x="436.5" y="481.5"/><use href="#d" x="436.5" y="511.5"/><use href="#d" x="436.5" y="515.5"/><use href="#d" x="436.5" y="535.5"/><use href="#d" x="436.5" y="536.5"/><use href="#d" x="436.5" y="540.5"/><use href="#d" x="436.5" y="551.5"/><use href="#d" x="436.5" y="564.5"/><use href="#d" x="436.5" y="569.5"/><use href="#d" x="436.5" y="583.5"/><use href="#d" x="436.5" y="588.5"/><use href="#d" x="436.5" y="632.5"/><use href="#d" x="436.5" y="645.5"/><use href="#d" x="436.5" y="647.5"/><use href="#d" x="436.5" y="661.5"/><use href="#d" x="436.5" y="664.5"/><use href="#d" x="436.5" y="668.5"/><use href="#d" x="436.5" y="670.5"/><use href="#d" x="436.5" y="680.5"/><use href="#d" x="436.5" y="745.5"/><use href="#d" x="436.5" y="750.5"/><use href="#d" x="436.5" y="765.5"/><use href="#d" x="436.5" y="264.5"/><use href="#d" x="436.5" y="768.5"/><use href="#d" x="448.5" y="293.5"/><use href="#d" x="448.5" y="310.5"/><use href="#d" x="448.5" y="316.5"/><use href="#d" x="448.5" y="318.5"/><use href="#d" x="448.5" y="320.5"/><use href="#d" x="448.5" y="322.5"/><use href="#d" x="448.5" y="332.5"/><use href="#d" x="448.5" y="353.5"/><use href="#d" x="448.5" y="366.5"/><use href="#d" x="448.5" y="371.5"/><use href="#d" x="448.5" y="374.5"/><use href="#d" x="448.5" y="377.5"/><use href="#d" x="448.5" y="379.5"/><use href="#d" x="448.5" y="398.5"/><use href="#d" x="448.5" y="405.5"/><use href="#d" x="448.5" y="418.5"/><use href="#d" x="448.5" y="424.5"/><use href="#d" x="448.5" y="434.5"/><use href="#d" x="448.5" y="438.5"/><use href="#d" x="448.5" y="450.5"/><use href="#d" x="448.5" y="487.5"/><use href="#d" x="448.5" y="514.5"/><use href="#d" x="448.5" y="524.5"/><use href="#d" x="448.5" y="533.5"/><use href="#d" x="448.5" y="548.5"/><use href="#d" x="448.5" y="551.5"/><use href="#d" x="448.5" y="588.5"/><use href="#d" x="448.5" y="647.5"/><use href="#d" x="448.5" y="650.5"/><use href="#d" x="448.5" y="665.5"/><use href="#d" x="448.5" y="669.5"/><use href="#d" x="448.5" y="753.5"/><use href="#d" x="448.5" y="284.5"/><use href="#d" x="448.5" y="310.5"/><use href="#d" x="448.5" y="315.5"/><use href="#d" x="448.5" y="320.5"/><use href="#d" x="448.5" y="324.5"/><use href="#d" x="448.5" y="768.5"/><use href="#d" x="460.5" y="299.5"/><use href="#d" x="460.5" y="301.5"/><use href="#d" x="460.5" y="305.5"/><use href="#d" x="460.5" y="325.5"/><use href="#d" x="460.5" y="330.5"/><use href="#d" x="460.5" y="351.5"/><use href="#d" x="460.5" y="353.5"/><use href="#d" x="460.5" y="359.5"/><use href="#d" x="460.5" y="362.5"/><use href="#d" x="460.5" y="366.5"/><use href="#d" x="460.5" y="369.5"/><use href="#d" x="460.5" y="380.5"/><use href="#d" x="460.5" y="384.5"/><use href="#d" x="460.5" y="385.5"/><use href="#d" x="460.5" y="396.5"/><use href="#d" x="460.5" y="402.5"/><use href="#d" x="460.5" y="418.5"/><use href="#d" x="460.5" y="421.5"/><use href="#d" x="460.5" y="428.5"/><use href="#d" x="460.5" y="435.5"/><use href="#d" x="460.5" y="449.5"/><use href="#d" x="460.5" y="452.5"/><use href="#d" x="460.5" y="454.5"/><use href="#d" x="460.5" y="463.5"/><use href="#d" x="460.5" y="464.5"/><use href="#d" x="460.5" y="477.5"/><use href="#d" x="460.5" y="527.5"/><use href="#d" x="460.5" y="551.5"/><use href="#d" x="460.5" y="553.5"/><use href="#d" x="460.5" y="558.5"/><use href="#d" x="460.5" y="688.5"/><use href="#d" x="460.5" y="732.5"/><use href="#d" x="460.5" y="286.5"/><use href="#d" x="460.5" y="298.5"/><use href="#d" x="460.5" y="303.5"/><use href="#d" x="460.5" y="320.5"/><use href="#d" x="460.5" y="321.5"/><use href="#d" x="460.5" y="327.5"/><use href="#d" x="460.5" y="768.5"/><use href="#d" x="473.5" y="292.5"/><use href="#d" x="473.5" y="298.5"/><use href="#d" x="473.5" y="310.5"/><use href="#d" x="473.5" y="318.5"/><use href="#d" x="473.5" y="322.5"/><use href="#d" x="473.5" y="326.5"/><use href="#d" x="473.5" y="329.5"/><use href="#d" x="473.5" y="338.5"/><use href="#d" x="473.5" y="344.5"/><use href="#d" x="473.5" y="348.5"/><use href="#d" x="473.5" y="351.5"/><use href="#d" x="473.5" y="364.5"/><use href="#d" x="473.5" y="368.5"/><use href="#d" x="473.5" y="380.5"/><use href="#d" x="473.5" y="384.5"/><use href="#d" x="473.5" y="394.5"/><use href="#d" x="473.5" y="402.5"/><use href="#d" x="473.5" y="405.5"/><use href="#d" x="473.5" y="426.5"/><use href="#d" x="473.5" y="430.5"/><use href="#d" x="473.5" y="449.5"/><use href="#d" x="473.5" y="458.5"/><use href="#d" x="473.5" y="482.5"/><use href="#d" x="473.5" y="485.5"/><use href="#d" x="473.5" y="500.5"/><use href="#d" x="473.5" y="519.5"/><use href="#d" x="473.5" y="655.5"/><use href="#d" x="473.5" y="278.5"/><use href="#d" x="473.5" y="285.5"/><use href="#d" x="473.5" y="286.5"/><use href="#d" x="473.5" y="291.5"/><use href="#d" x="473.5" y="295.5"/><use href="#d" x="473.5" y="298.5"/><use href="#d" x="473.5" y="318.5"/><use href="#d" x="473.5" y="324.5"/><use href="#d" x="473.5" y="326.5"/><use href="#d" x="473.5" y="768.5"/><use href="#d" x="485.5" y="291.5"/><use href="#d" x="485.5" y="300.5"/><use href="#d" x="485.5" y="326.5"/><use href="#d" x="485.5" y="330.5"/><use href="#d" x="485.5" y="333.5"/><use href="#d" x="485.5" y="338.5"/><use href="#d" x="485.5" y="340.5"/><use href="#d" x="485.5" y="356.5"/><use href="#d" x="485.5" y="360.5"/><use href="#d" x="485.5" y="363.5"/><use href="#d" x="485.5" y="377.5"/><use href="#d" x="485.5" y="379.5"/><use href="#d" x="485.5" y="384.5"/><use href="#d" x="485.5" y="394.5"/><use href="#d" x="485.5" y="436.5"/><use href="#d" x="485.5" y="519.5"/><use href="#d" x="485.5" y="632.5"/><use href="#d" x="485.5" y="273.5"/><use href="#d" x="485.5" y="275.5"/><use href="#d" x="485.5" y="283.5"/><use href="#d" x="485.5" y="307.5"/><use href="#d" x="485.5" y="311.5"/><use href="#d" x="485.5" y="318.5"/><use href="#d" x="485.5" y="326.5"/><use href="#d" x="485.5" y="328.5"/><use href="#d" x="485.5" y="333.5"/><use href="#d" x="485.5" y="339.5"/><use href="#d" x="485.5" y="768.5"/><use href="#d" x="498.5" y="288.5"/><use href="#d" x="498.5" y="296.5"/><use href="#d" x="498.5" y="322.5"/><use href="#d" x="498.5" y="344.5"/><use href="#d" x="498.5" y="349.5"/><use href="#d" x="498.5" y="354.5"/><use href="#d" x="498.5" y="357.5"/><use href="#d" x="498.5" y="360.5"/><use href="#d" x="498.5" y="363.5"/><use href="#d" x="498.5" y="377.5"/><use href="#d" x="498.5" y="384.5"/><use href="#d" x="498.5" y="391.5"/><use href="#d" x="498.5" y="435.5"/><use href="#d" x="498.5" y="519.5"/><use href="#d" x="498.5" y="524.5"/><use href="#d" x="498.5" y="274.5"/><use href="#d" x="498.5" y="280.5"/><use href="#d" x="498.5" y="284.5"/><use href="#d" x="498.5" y="287.5"/><use href="#d" x="498.5" y="290.5"/><use href="#d" x="498.5" y="297.5"/><use href="#d" x="498.5" y="345.5"/><use href="#d" x="498.5" y="350.5"/><use href="#d" x="498.5" y="357.5"/><use href="#d" x="498.5" y="361.5"/><use href="#d" x="498.5" y="768.5"/><use href="#d" x="510.5" y="292.5"/><use href="#d" x="510.5" y="295.5"/><use href="#d" x="510.5" y="298.5"/><use href="#d" x="510.5" y="316.5"/><use href="#d" x="510.5" y="320.5"/><use href="#d" x="510.5" y="328.5"/><use href="#d" x="510.5" y="339.5"/><use href="#d" x="510.5" y="340.5"/><use href="#d" x="510.5" y="351.5"/><use href="#d" x="510.5" y="354.5"/><use href="#d" x="510.5" y="372.5"/><use href="#d" x="510.5" y="377.5"/><use href="#d" x="510.5" y="380.5"/><use href="#d" x="510.5" y="393.5"/><use href="#d" x="510.5" y="664.5"/><use href="#d" x="510.5" y="683.5"/><use href="#d" x="510.5" y="268.5"/><use href="#d" x="510.5" y="271.5"/><use href="#d" x="510.5" y="275.5"/><use href="#d" x="510.5" y="269.5"/><use href="#d" x="510.5" y="275.5"/><use href="#d" x="510.5" y="282.5"/><use href="#d" x="510.5" y="285.5"/><use href="#d" x="510.5" y="289.5"/><use href="#d" x="510.5" y="295.5"/><use href="#d" x="510.5" y="300.5"/><use href="#d" x="510.5" y="307.5"/><use href="#d" x="510.5" y="310.5"/><use href="#d" x="510.5" y="318.5"/><use href="#d" x="510.5" y="768.5"/><use href="#d" x="522.5" y="665.5"/><use href="#d" x="522.5" y="731.5"/><use href="#d" x="522.5" y="762.5"/><use href="#d" x="522.5" y="266.5"/><use href="#d" x="522.5" y="270.5"/><use href="#d" x="522.5" y="275.5"/><use href="#d" x="522.5" y="286.5"/><use href="#d" x="522.5" y="288.5"/><use href="#d" x="522.5" y="290.5"/><use href="#d" x="522.5" y="291.5"/><use href="#d" x="522.5" y="293.5"/><use href="#d" x="522.5" y="306.5"/><use href="#d" x="522.5" y="314.5"/><use href="#d" x="522.5" y="322.5"/><use href="#d" x="522.5" y="324.5"/><use href="#d" x="522.5" y="337.5"/><use href="#d" x="522.5" y="338.5"/><use href="#d" x="522.5" y="354.5"/><use href="#d" x="522.5" y="358.5"/><use href="#d" x="522.5" y="365.5"/><use href="#d" x="522.5" y="371.5"/><use href="#d" x="522.5" y="384.5"/><use href="#d" x="522.5" y="394.5"/><use href="#d" x="522.5" y="618.5"/><use href="#d" x="522.5" y="267.5"/><use href="#d" x="522.5" y="274.5"/><use href="#d" x="522.5" y="279.5"/><use href="#d" x="522.5" y="285.5"/><use href="#d" x="522.5" y="289.5"/><use href="#d" x="522.5" y="295.5"/><use href="#d" x="522.5" y="299.5"/><use href="#d" x="522.5" y="303.5"/><use href="#d" x="522.5" y="307.5"/><use href="#d" x="522.5" y="311.5"/><use href="#d" x="522.5" y="315.5"/><use href="#d" x="522.5" y="322.5"/><use href="#d" x="522.5" y="768.5"/><use href="#d" x="535.5" y="266.5"/><use href="#d" x="535.5" y="270.5"/><use href="#d" x="535.5" y="283.5"/><use href="#d" x="535.5" y="286.5"/><use href="#d" x="535.5" y="286.5"/><use href="#d" x="535.5" y="288.5"/><use href="#d" x="535.5" y="290.5"/><use href="#d" x="535.5" y="303.5"/><use href="#d" x="535.5" y="307.5"/><use href="#d" x="535.5" y="318.5"/><use href="#d" x="535.5" y="321.5"/><use href="#d" x="535.5" y="330.5"/><use href="#d" x="535.5" y="336.5"/><use href="#d" x="535.5" y="345.5"/><use href="#d" x="535.5" y="346.5"/><use href="#d" x="535.5" y="355.5"/><use href="#d" x="535.5" y="359.5"/><use href="#d" x="535.5" y="366.5"/><use href="#d" x="535.5" y="384.5"/><use href="#d" x="535.5" y="387.5"/><use href="#d" x="535.5" y="270.5"/><use href="#d" x="535.5" y="272.5"/><use href="#d" x="535.5" y="279.5"/><use href="#d" x="535.5" y="283.5"/><use href="#d" x="535.5" y="288.5"/><use href="#d" x="535.5" y="291.5"/><use href="#d" x="535.5" y="297.5"/><use href="#d" x="535.5" y="302.5"/><use href="#d" x="535.5" y="306.5"/><use href="#d" x="535.5" y="309.5"/><use href="#d" x="535.5" y="315.5"/><use href="#d" x="535.5" y="322.5"/><use href="#d" x="535.5" y="768.5"/><use href="#d" x="547.5" y="721.5"/><use href="#d" x="547.5" y="731.5"/><use href="#d" x="547.5" y="275.5"/><use href="#d" x="547.5" y="285.5"/><use href="#d" x="547.5" y="304.5"/><use href="#d" x="547.5" y="311.5"/><use href="#d" x="547.5" y="314.5"/><use href="#d" x="547.5" y="317.5"/><use href="#d" x="547.5" y="340.5"/><use href="#d" x="547.5" y="384.5"/><use href="#d" x="547.5" y="394.5"/><use href="#d" x="547.5" y="426.5"/><use href="#d" x="547.5" y="458.5"/><use href="#d" x="547.5" y="467.5"/><use href="#d" x="547.5" y="625.5"/><use href="#d" x="547.5" y="273.5"/><use href="#d" x="547.5" y="276.5"/><use href="#d" x="547.5" y="281.5"/><use href="#d" x="547.5" y="284.5"/><use href="#d" x="547.5" y="289.5"/><use href="#d" x="547.5" y="292.5"/><use href="#d" x="547.5" y="298.5"/><use href="#d" x="547.5" y="299.5"/><use href="#d" x="547.5" y="305.5"/><use href="#d" x="547.5" y="768.5"/><use href="#d" x="560.5" y="742.5"/><use href="#d" x="560.5" y="275.5"/><use href="#d" x="560.5" y="285.5"/><use href="#d" x="560.5" y="289.5"/><use href="#d" x="560.5" y="297.5"/><use href="#d" x="560.5" y="307.5"/><use href="#d" x="560.5" y="323.5"/><use href="#d" x="560.5" y="329.5"/><use href="#d" x="560.5" y="333.5"/><use href="#d" x="560.5" y="345.5"/><use href="#d" x="560.5" y="348.5"/><use href="#d" x="560.5" y="394.5"/><use href="#d" x="560.5" y="462.5"/><use href="#d" x="560.5" y="467.5"/><use href="#d" x="560.5" y="272.5"/><use href="#d" x="560.5" y="277.5"/><use href="#d" x="560.5" y="282.5"/><use href="#d" x="560.5" y="285.5"/><use href="#d" x="560.5" y="289.5"/><use href="#d" x="560.5" y="293.5"/><use href="#d" x="560.5" y="298.5"/><use href="#d" x="560.5" y="303.5"/><use href="#d" x="560.5" y="306.5"/><use href="#d" x="560.5" y="768.5"/><use href="#d" x="572.5" y="677.5"/><use href="#d" x="572.5" y="731.5"/><use href="#d" x="572.5" y="742.5"/><use href="#d" x="572.5" y="747.5"/><use href="#d" x="572.5" y="255.5"/><use href="#d" x="572.5" y="258.5"/><use href="#d" x="572.5" y="261.5"/><use href="#d" x="572.5" y="272.5"/><use href="#d" x="572.5" y="283.5"/><use href="#d" x="572.5" y="303.5"/><use href="#d" x="572.5" y="312.5"/><use href="#d" x="572.5" y="347.5"/><use href="#d" x="572.5" y="398.5"/><use href="#d" x="572.5" y="430.5"/><use href="#d" x="572.5" y="458.5"/><use href="#d" x="572.5" y="460.5"/><use href="#d" x="572.5" y="614.5"/><use href="#d" x="572.5" y="261.5"/><use href="#d" x="572.5" y="264.5"/><use href="#d" x="572.5" y="267.5"/><use href="#d" x="572.5" y="273.5"/><use href="#d" x="572.5" y="279.5"/><use href="#d" x="572.5" y="284.5"/><use href="#d" x="572.5" y="289.5"/><use href="#d" x="572.5" y="292.5"/><use href="#d" x="572.5" y="296.5"/><use href="#d" x="572.5" y="301.5"/><use href="#d" x="572.5" y="768.5"/><use href="#d" x="584.5" y="731.5"/><use href="#d" x="584.5" y="742.5"/><use href="#d" x="584.5" y="256.5"/><use href="#d" x="584.5" y="258.5"/><use href="#d" x="584.5" y="268.5"/><use href="#d" x="584.5" y="289.5"/><use href="#d" x="584.5" y="293.5"/><use href="#d" x="584.5" y="299.5"/><use href="#d" x="584.5" y="313.5"/><use href="#d" x="584.5" y="394.5"/><use href="#d" x="584.5" y="397.5"/><use href="#d" x="584.5" y="424.5"/><use href="#d" x="584.5" y="458.5"/><use href="#d" x="584.5" y="463.5"/><use href="#d" x="584.5" y="486.5"/><use href="#d" x="584.5" y="501.5"/><use href="#d" x="584.5" y="591.5"/><use href="#d" x="584.5" y="613.5"/><use href="#d" x="584.5" y="247.5"/><use href="#d" x="584.5" y="259.5"/><use href="#d" x="584.5" y="262.5"/><use href="#d" x="584.5" y="269.5"/><use href="#d" x="584.5" y="270.5"/><use href="#d" x="584.5" y="276.5"/><use href="#d" x="584.5" y="280.5"/><use href="#d" x="584.5" y="284.5"/><use href="#d" x="584.5" y="287.5"/><use href="#d" x="584.5" y="292.5"/><use href="#d" x="584.5" y="768.5"/><use href="#d" x="597.5" y="253.5"/><use href="#d" x="597.5" y="257.5"/><use href="#d" x="597.5" y="263.5"/><use href="#d" x="597.5" y="265.5"/><use href="#d" x="597.5" y="267.5"/><use href="#d" x="597.5" y="269.5"/><use href="#d" x="597.5" y="271.5"/><use href="#d" x="597.5" y="279.5"/><use href="#d" x="597.5" y="282.5"/><use href="#d" x="597.5" y="285.5"/><use href="#d" x="597.5" y="294.5"/><use href="#d" x="597.5" y="298.5"/><use href="#d" x="597.5" y="322.5"/><use href="#d" x="597.5" y="391.5"/><use href="#d" x="597.5" y="394.5"/><use href="#d" x="597.5" y="397.5"/><use href="#d" x="597.5" y="524.5"/><use href="#d" x="597.5" y="616.5"/><use href="#d" x="597.5" y="734.5"/><use href="#d" x="597.5" y="766.5"/><use href="#d" x="597.5" y="255.5"/><use href="#d" x="597.5" y="260.5"/><use href="#d" x="597.5" y="267.5"/><use href="#d" x="597.5" y="270.5"/><use href="#d" x="597.5" y="276.5"/><use href="#d" x="597.5" y="280.5"/><use href="#d" x="597.5" y="283.5"/><use href="#d" x="597.5" y="288.5"/><use href="#d" x="597.5" y="768.5"/><use href="#d" x="609.5" y="252.5"/><use href="#d" x="609.5" y="257.5"/><use href="#d" x="609.5" y="268.5"/><use href="#d" x="609.5" y="278.5"/><use href="#d" x="609.5" y="281.5"/><use href="#d" x="609.5" y="283.5"/><use href="#d" x="609.5" y="285.5"/><use href="#d" x="609.5" y="287.5"/><use href="#d" x="609.5" y="308.5"/><use href="#d" x="609.5" y="310.5"/><use href="#d" x="609.5" y="318.5"/><use href="#d" x="609.5" y="326.5"/><use href="#d" x="609.5" y="331.5"/><use href="#d" x="609.5" y="422.5"/><use href="#d" x="609.5" y="526.5"/><use href="#d" x="609.5" y="731.5"/><use href="#d" x="609.5" y="174.5"/><use href="#d" x="609.5" y="244.5"/><use href="#d" x="609.5" y="266.5"/><use href="#d" x="609.5" y="274.5"/><use href="#d" x="609.5" y="279.5"/><use href="#d" x="609.5" y="282.5"/><use href="#d" x="609.5" y="287.5"/><use href="#d" x="609.5" y="768.5"/><use href="#d" x="622.5" y="256.5"/><use href="#d" x="622.5" y="260.5"/><use href="#d" x="622.5" y="280.5"/><use href="#d" x="622.5" y="283.5"/><use href="#d" x="622.5" y="289.5"/><use href="#d" x="622.5" y="292.5"/><use href="#d" x="622.5" y="309.5"/><use href="#d" x="622.5" y="316.5"/><use href="#d" x="622.5" y="321.5"/><use href="#d" x="622.5" y="326.5"/><use href="#d" x="622.5" y="740.5"/><use href="#d" x="622.5" y="153.5"/><use href="#d" x="622.5" y="156.5"/><use href="#d" x="622.5" y="160.5"/><use href="#d" x="622.5" y="170.5"/><use href="#d" x="622.5" y="177.5"/><use href="#d" x="622.5" y="250.5"/><use href="#d" x="622.5" y="267.5"/><use href="#d" x="622.5" y="273.5"/><use href="#d" x="622.5" y="277.5"/><use href="#d" x="622.5" y="283.5"/><use href="#d" x="622.5" y="768.5"/><use href="#d" x="634.5" y="261.5"/><use href="#d" x="634.5" y="270.5"/><use href="#d" x="634.5" y="280.5"/><use href="#d" x="634.5" y="287.5"/><use href="#d" x="634.5" y="299.5"/><use href="#d" x="634.5" y="309.5"/><use href="#d" x="634.5" y="313.5"/><use href="#d" x="634.5" y="324.5"/><use href="#d" x="634.5" y="325.5"/><use href="#d" x="634.5" y="333.5"/><use href="#d" x="634.5" y="474.5"/><use href="#d" x="634.5" y="740.5"/><use href="#d" x="634.5" y="160.5"/><use href="#d" x="634.5" y="161.5"/><use href="#d" x="634.5" y="172.5"/><use href="#d" x="634.5" y="190.5"/><use href="#d" x="634.5" y="244.5"/><use href="#d" x="634.5" y="260.5"/><use href="#d" x="634.5" y="265.5"/><use href="#d" x="634.5" y="271.5"/><use href="#d" x="634.5" y="768.5"/><use href="#d" x="646.5" y="252.5"/><use href="#d" x="646.5" y="254.5"/><use href="#d" x="646.5" y="256.5"/><use href="#d" x="646.5" y="257.5"/><use href="#d" x="646.5" y="260.5"/><use href="#d" x="646.5" y="261.5"/><use href="#d" x="646.5" y="270.5"/><use href="#d" x="646.5" y="282.5"/><use href="#d" x="646.5" y="298.5"/><use href="#d" x="646.5" y="309.5"/><use href="#d" x="646.5" y="313.5"/><use href="#d" x="646.5" y="334.5"/><use href="#d" x="646.5" y="401.5"/><use href="#d" x="646.5" y="475.5"/><use href="#d" x="646.5" y="765.5"/><use href="#d" x="646.5" y="158.5"/><use href="#d" x="646.5" y="161.5"/><use href="#d" x="646.5" y="168.5"/><use href="#d" x="646.5" y="183.5"/><use href="#d" x="646.5" y="223.5"/><use href="#d" x="646.5" y="234.5"/><use href="#d" x="646.5" y="248.5"/><use href="#d" x="646.5" y="251.5"/><use href="#d" x="646.5" y="266.5"/><use href="#d" x="646.5" y="271.5"/><use href="#d" x="646.5" y="276.5"/><use href="#d" x="646.5" y="768.5"/><use href="#d" x="659.5" y="258.5"/><use href="#d" x="659.5" y="259.5"/><use href="#d" x="659.5" y="261.5"/><use href="#d" x="659.5" y="262.5"/><use href="#d" x="659.5" y="265.5"/><use href="#d" x="659.5" y="275.5"/><use href="#d" x="659.5" y="279.5"/><use href="#d" x="659.5" y="336.5"/><use href="#d" x="659.5" y="764.5"/><use href="#d" x="659.5" y="168.5"/><use href="#d" x="659.5" y="183.5"/><use href="#d" x="659.5" y="185.5"/><use href="#d" x="659.5" y="193.5"/><use href="#d" x="659.5" y="198.5"/><use href="#d" x="659.5" y="220.5"/><use href="#d" x="659.5" y="234.5"/><use href="#d" x="659.5" y="243.5"/><use href="#d" x="659.5" y="246.5"/><use href="#d" x="659.5" y="269.5"/><use href="#d" x="659.5" y="274.5"/><use href="#d" x="659.5" y="277.5"/><use href="#d" x="659.5" y="768.5"/><use href="#d" x="671.5" y="150.5"/><use href="#d" x="671.5" y="165.5"/><use href="#d" x="671.5" y="169.5"/><use href="#d" x="671.5" y="173.5"/><use href="#d" x="671.5" y="177.5"/><use href="#d" x="671.5" y="184.5"/><use href="#d" x="671.5" y="203.5"/><use href="#d" x="671.5" y="221.5"/><use href="#d" x="671.5" y="226.5"/><use href="#d" x="671.5" y="230.5"/><use href="#d" x="671.5" y="236.5"/><use href="#d" x="671.5" y="244.5"/><use href="#d" x="671.5" y="253.5"/><use href="#d" x="671.5" y="258.5"/><use href="#d" x="671.5" y="261.5"/><use href="#d" x="671.5" y="290.5"/><use href="#d" x="671.5" y="301.5"/><use href="#d" x="671.5" y="301.5"/><use href="#d" x="671.5" y="323.5"/><use href="#d" x="671.5" y="346.5"/><use href="#d" x="671.5" y="356.5"/><use href="#d" x="671.5" y="153.5"/><use href="#d" x="671.5" y="158.5"/><use href="#d" x="671.5" y="164.5"/><use href="#d" x="671.5" y="167.5"/><use href="#d" x="671.5" y="171.5"/><use href="#d" x="671.5" y="768.5"/><use href="#d" x="684.5" y="678.5"/><use href="#d" x="684.5" y="763.5"/><use href="#d" x="684.5" y="160.5"/><use href="#d" x="684.5" y="183.5"/><use href="#d" x="684.5" y="203.5"/><use href="#d" x="684.5" y="235.5"/><use href="#d" x="684.5" y="246.5"/><use href="#d" x="684.5" y="248.5"/><use href="#d" x="684.5" y="251.5"/><use href="#d" x="684.5" y="252.5"/><use href="#d" x="684.5" y="255.5"/><use href="#d" x="684.5" y="260.5"/><use href="#d" x="684.5" y="261.5"/><use href="#d" x="684.5" y="278.5"/><use href="#d" x="684.5" y="306.5"/><use href="#d" x="684.5" y="308.5"/><use href="#d" x="684.5" y="334.5"/><use href="#d" x="684.5" y="346.5"/><use href="#d" x="684.5" y="348.5"/><use href="#d" x="684.5" y="152.5"/><use href="#d" x="684.5" y="157.5"/><use href="#d" x="684.5" y="160.5"/><use href="#d" x="684.5" y="768.5"/><use href="#d" x="696.5" y="767.5"/><use href="#d" x="696.5" y="155.5"/><use href="#d" x="696.5" y="171.5"/><use href="#d" x="696.5" y="174.5"/><use href="#d" x="696.5" y="183.5"/><use href="#d" x="696.5" y="221.5"/><use href="#d" x="696.5" y="225.5"/><use href="#d" x="696.5" y="238.5"/><use href="#d" x="696.5" y="243.5"/><use href="#d" x="696.5" y="246.5"/><use href="#d" x="696.5" y="253.5"/><use href="#d" x="696.5" y="257.5"/><use href="#d" x="696.5" y="260.5"/><use href="#d" x="696.5" y="271.5"/><use href="#d" x="696.5" y="337.5"/><use href="#d" x="696.5" y="383.5"/><use href="#d" x="696.5" y="404.5"/><use href="#d" x="696.5" y="442.5"/><use href="#d" x="696.5" y="153.5"/><use href="#d" x="696.5" y="162.5"/><use href="#d" x="696.5" y="165.5"/><use href="#d" x="696.5" y="172.5"/><use href="#d" x="696.5" y="768.5"/><use href="#d" x="708.5" y="475.5"/><use href="#d" x="708.5" y="728.5"/><use href="#d" x="708.5" y="733.5"/><use href="#d" x="708.5" y="765.5"/><use href="#d" x="708.5" y="156.5"/><use href="#d" x="708.5" y="165.5"/><use href="#d" x="708.5" y="204.5"/><use href="#d" x="708.5" y="238.5"/><use href="#d" x="708.5" y="249.5"/><use href="#d" x="708.5" y="257.5"/><use href="#d" x="708.5" y="260.5"/><use href="#d" x="708.5" y="285.5"/><use href="#d" x="708.5" y="335.5"/><use href="#d" x="708.5" y="340.5"/><use href="#d" x="708.5" y="399.5"/><use href="#d" x="708.5" y="399.5"/><use href="#d" x="708.5" y="443.5"/><use href="#d" x="708.5" y="443.5"/><use href="#d" x="708.5" y="153.5"/><use href="#d" x="708.5" y="160.5"/><use href="#d" x="708.5" y="163.5"/><use href="#d" x="708.5" y="768.5"/><use href="#d" x="721.5" y="475.5"/><use href="#d" x="721.5" y="727.5"/><use href="#d" x="721.5" y="728.5"/><use href="#d" x="721.5" y="766.5"/><use href="#d" x="721.5" y="147.5"/><use href="#d" x="721.5" y="169.5"/><use href="#d" x="721.5" y="183.5"/><use href="#d" x="721.5" y="184.5"/><use href="#d" x="721.5" y="204.5"/><use href="#d" x="721.5" y="245.5"/><use href="#d" x="721.5" y="248.5"/><use href="#d" x="721.5" y="250.5"/><use href="#d" x="721.5" y="442.5"/><use href="#d" x="721.5" y="442.5"/><use href="#d" x="721.5" y="150.5"/><use href="#d" x="721.5" y="154.5"/><use href="#d" x="721.5" y="160.5"/><use href="#d" x="721.5" y="768.5"/><use href="#d" x="733.5" y="728.5"/><use href="#d" x="733.5" y="766.5"/><use href="#d" x="733.5" y="156.5"/><use href="#d" x="733.5" y="161.5"/><use href="#d" x="733.5" y="168.5"/><use href="#d" x="733.5" y="169.5"/><use href="#d" x="733.5" y="179.5"/><use href="#d" x="733.5" y="183.5"/><use href="#d" x="733.5" y="200.5"/><use href="#d" x="733.5" y="244.5"/><use href="#d" x="733.5" y="257.5"/><use href="#d" x="733.5" y="313.5"/><use href="#d" x="733.5" y="381.5"/><use href="#d" x="733.5" y="152.5"/><use href="#d" x="733.5" y="156.5"/><use href="#d" x="733.5" y="159.5"/><use href="#d" x="733.5" y="768.5"/><use href="#d" x="746.5" y="728.5"/><use href="#d" x="746.5" y="158.5"/><use href="#d" x="746.5" y="162.5"/><use href="#d" x="746.5" y="165.5"/><use href="#d" x="746.5" y="168.5"/><use href="#d" x="746.5" y="187.5"/><use href="#d" x="746.5" y="194.5"/><use href="#d" x="746.5" y="202.5"/><use href="#d" x="746.5" y="205.5"/><use href="#d" x="746.5" y="231.5"/><use href="#d" x="746.5" y="267.5"/><use href="#d" x="746.5" y="348.5"/><use href="#d" x="746.5" y="349.5"/><use href="#d" x="746.5" y="356.5"/><use href="#d" x="746.5" y="360.5"/><use href="#d" x="746.5" y="156.5"/><use href="#d" x="746.5" y="161.5"/><use href="#d" x="746.5" y="166.5"/><use href="#d" x="746.5" y="768.5"/><use href="#d" x="758.5" y="728.5"/><use href="#d" x="758.5" y="155.5"/><use href="#d" x="758.5" y="159.5"/><use href="#d" x="758.5" y="161.5"/><use href="#d" x="758.5" y="208.5"/><use href="#d" x="758.5" y="211.5"/><use href="#d" x="758.5" y="215.5"/><use href="#d" x="758.5" y="259.5"/><use href="#d" x="758.5" y="347.5"/><use href="#d" x="758.5" y="347.5"/><use href="#d" x="758.5" y="431.5"/><use href="#d" x="758.5" y="153.5"/><use href="#d" x="758.5" y="155.5"/><use href="#d" x="758.5" y="159.5"/><use href="#d" x="758.5" y="768.5"/><use href="#d" x="770.5" y="154.5"/><use href="#d" x="770.5" y="160.5"/><use href="#d" x="770.5" y="166.5"/><use href="#d" x="770.5" y="173.5"/><use href="#d" x="770.5" y="188.5"/><use href="#d" x="770.5" y="347.5"/><use href="#d" x="770.5" y="504.5"/><use href="#d" x="770.5" y="768.5"/><use href="#d" x="783.5" y="756.5"/><use href="#d" x="783.5" y="154.5"/><use href="#d" x="783.5" y="163.5"/><use href="#d" x="783.5" y="173.5"/><use href="#d" x="783.5" y="188.5"/><use href="#d" x="783.5" y="200.5"/><use href="#d" x="783.5" y="207.5"/><use href="#d" x="783.5" y="225.5"/><use href="#d" x="783.5" y="229.5"/><use href="#d" x="783.5" y="363.5"/><use href="#d" x="783.5" y="503.5"/><use href="#d" x="783.5" y="768.5"/><use href="#d" x="795.5" y="680.5"/><use href="#d" x="795.5" y="160.5"/><use href="#d" x="795.5" y="165.5"/><use href="#d" x="795.5" y="207.5"/><use href="#d" x="795.5" y="214.5"/><use href="#d" x="795.5" y="286.5"/><use href="#d" x="795.5" y="351.5"/><use href="#d" x="795.5" y="363.5"/><use href="#d" x="795.5" y="376.5"/><use href="#d" x="795.5" y="445.5"/><use href="#d" x="795.5" y="768.5"/><use href="#d" x="808.5" y="556.5"/><use href="#d" x="808.5" y="680.5"/><use href="#d" x="808.5" y="727.5"/><use href="#d" x="808.5" y="732.5"/><use href="#d" x="808.5" y="741.5"/><use href="#d" x="808.5" y="752.5"/><use href="#d" x="808.5" y="154.5"/><use href="#d" x="808.5" y="160.5"/><use href="#d" x="808.5" y="165.5"/><use href="#d" x="808.5" y="204.5"/><use href="#d" x="808.5" y="214.5"/><use href="#d" x="808.5" y="227.5"/><use href="#d" x="808.5" y="287.5"/><use href="#d" x="808.5" y="325.5"/><use href="#d" x="808.5" y="768.5"/><use href="#d" x="820.5" y="680.5"/><use href="#d" x="820.5" y="727.5"/><use href="#d" x="820.5" y="160.5"/><use href="#d" x="820.5" y="162.5"/><use href="#d" x="820.5" y="185.5"/><use href="#d" x="820.5" y="188.5"/><use href="#d" x="820.5" y="214.5"/><use href="#d" x="820.5" y="255.5"/><use href="#d" x="820.5" y="445.5"/><use href="#d" x="820.5" y="501.5"/><use href="#d" x="820.5" y="768.5"/><use href="#d" x="832.5" y="750.5"/><use href="#d" x="832.5" y="156.5"/><use href="#d" x="832.5" y="163.5"/><use href="#d" x="832.5" y="209.5"/><use href="#d" x="832.5" y="221.5"/><use href="#d" x="832.5" y="255.5"/><use href="#d" x="832.5" y="452.5"/><use href="#d" x="832.5" y="488.5"/><use href="#d" x="832.5" y="488.5"/><use href="#d" x="832.5" y="768.5"/><use href="#d" x="845.5" y="696.5"/><use href="#d" x="845.5" y="700.5"/><use href="#d" x="845.5" y="748.5"/><use href="#d" x="845.5" y="756.5"/><use href="#d" x="845.5" y="151.5"/><use href="#d" x="845.5" y="219.5"/><use href="#d" x="845.5" y="360.5"/><use href="#d" x="845.5" y="429.5"/><use href="#d" x="845.5" y="452.5"/><use href="#d" x="845.5" y="488.5"/><use href="#d" x="845.5" y="768.5"/><use href="#d" x="857.5" y="748.5"/><use href="#d" x="857.5" y="160.5"/><use href="#d" x="857.5" y="174.5"/><use href="#d" x="857.5" y="219.5"/><use href="#d" x="857.5" y="285.5"/><use href="#d" x="857.5" y="374.5"/><use href="#d" x="857.5" y="445.5"/><use href="#d" x="857.5" y="488.5"/><use href="#d" x="857.5" y="488.5"/><use href="#d" x="857.5" y="768.5"/><use href="#d" x="870.5" y="160.5"/><use href="#d" x="870.5" y="164.5"/><use href="#d" x="870.5" y="174.5"/><use href="#d" x="870.5" y="177.5"/><use href="#d" x="870.5" y="201.5"/><use href="#d" x="870.5" y="204.5"/><use href="#d" x="870.5" y="261.5"/><use href="#d" x="870.5" y="305.5"/><use href="#d" x="870.5" y="473.5"/><use href="#d" x="870.5" y="768.5"/><use href="#d" x="882.5" y="174.5"/><use href="#d" x="882.5" y="180.5"/><use href="#d" x="882.5" y="182.5"/><use href="#d" x="882.5" y="258.5"/><use href="#d" x="882.5" y="311.5"/><use href="#d" x="882.5" y="311.5"/><use href="#d" x="882.5" y="332.5"/><use href="#d" x="882.5" y="405.5"/><use href="#d" x="882.5" y="768.5"/><use href="#d" x="894.5" y="713.5"/><use href="#d" x="894.5" y="751.5"/><use href="#d" x="894.5" y="151.5"/><use href="#d" x="894.5" y="161.5"/><use href="#d" x="894.5" y="163.5"/><use href="#d" x="894.5" y="165.5"/><use href="#d" x="894.5" y="181.5"/><use href="#d" x="894.5" y="197.5"/><use href="#d" x="894.5" y="201.5"/><use href="#d" x="894.5" y="249.5"/><use href="#d" x="894.5" y="255.5"/><use href="#d" x="894.5" y="303.5"/><use href="#d" x="894.5" y="311.5"/><use href="#d" x="894.5" y="457.5"/><use href="#d" x="894.5" y="768.5"/><use href="#d" x="907.5" y="713.5"/><use href="#d" x="907.5" y="751.5"/><use href="#d" x="907.5" y="753.5"/><use href="#d" x="907.5" y="757.5"/><use href="#d" x="907.5" y="765.5"/><use href="#d" x="907.5" y="157.5"/><use href="#d" x="907.5" y="163.5"/><use href="#d" x="907.5" y="188.5"/><use href="#d" x="907.5" y="200.5"/><use href="#d" x="907.5" y="239.5"/><use href="#d" x="907.5" y="249.5"/><use href="#d" x="907.5" y="310.5"/><use href="#d" x="907.5" y="382.5"/><use href="#d" x="907.5" y="445.5"/><use href="#d" x="907.5" y="768.5"/><use href="#d" x="919.5" y="684.5"/><use href="#d" x="919.5" y="755.5"/><use href="#d" x="919.5" y="765.5"/><use href="#d" x="919.5" y="767.5"/><use href="#d" x="919.5" y="161.5"/><use href="#d" x="919.5" y="176.5"/><use href="#d" x="919.5" y="181.5"/><use href="#d" x="919.5" y="188.5"/><use href="#d" x="919.5" y="212.5"/><use href="#d" x="919.5" y="243.5"/><use href="#d" x="919.5" y="258.5"/><use href="#d" x="919.5" y="310.5"/><use href="#d" x="919.5" y="314.5"/><use href="#d" x="919.5" y="445.5"/><use href="#d" x="919.5" y="445.5"/><use href="#d" x="919.5" y="768.5"/><use href="#d" x="932.5" y="684.5"/><use href="#d" x="932.5" y="707.5"/><use href="#d" x="932.5" y="754.5"/><use href="#d" x="932.5" y="755.5"/><use href="#d" x="932.5" y="181.5"/><use href="#d" x="932.5" y="188.5"/><use href="#d" x="932.5" y="200.5"/><use href="#d" x="932.5" y="252.5"/><use href="#d" x="932.5" y="258.5"/><use href="#d" x="932.5" y="264.5"/><use href="#d" x="932.5" y="310.5"/><use href="#d" x="932.5" y="314.5"/><use href="#d" x="932.5" y="331.5"/><use href="#d" x="932.5" y="409.5"/><use href="#d" x="932.5" y="445.5"/><use href="#d" x="932.5" y="445.5"/><use href="#d" x="932.5" y="456.5"/><use href="#d" x="932.5" y="768.5"/><use href="#d" x="944.5" y="649.5"/><use href="#d" x="944.5" y="684.5"/><use href="#d" x="944.5" y="754.5"/><use href="#d" x="944.5" y="761.5"/><use href="#d" x="944.5" y="763.5"/><use href="#d" x="944.5" y="765.5"/><use href="#d" x="944.5" y="152.5"/><use href="#d" x="944.5" y="161.5"/><use href="#d" x="944.5" y="190.5"/><use href="#d" x="944.5" y="200.5"/><use href="#d" x="944.5" y="252.5"/><use href="#d" x="944.5" y="258.5"/><use href="#d" x="944.5" y="273.5"/><use href="#d" x="944.5" y="300.5"/><use href="#d" x="944.5" y="331.5"/><use href="#d" x="944.5" y="333.5"/><use href="#d" x="944.5" y="355.5"/><use href="#d" x="944.5" y="369.5"/><use href="#d" x="944.5" y="768.5"/><use href="#d" x="956.5" y="647.5"/><use href="#d" x="956.5" y="648.5"/><use href="#d" x="956.5" y="690.5"/><use href="#d" x="956.5" y="750.5"/><use href="#d" x="956.5" y="754.5"/><use href="#d" x="956.5" y="761.5"/><use href="#d" x="956.5" y="764.5"/><use href="#d" x="956.5" y="151.5"/><use href="#d" x="956.5" y="157.5"/><use href="#d" x="956.5" y="161.5"/><use href="#d" x="956.5" y="173.5"/><use href="#d" x="956.5" y="184.5"/><use href="#d" x="956.5" y="200.5"/><use href="#d" x="956.5" y="264.5"/><use href="#d" x="956.5" y="273.5"/><use href="#d" x="956.5" y="333.5"/><use href="#d" x="956.5" y="355.5"/><use href="#d" x="956.5" y="445.5"/><use href="#d" x="956.5" y="460.5"/><use href="#d" x="956.5" y="497.5"/><use href="#d" x="956.5" y="614.5"/><use href="#d" x="956.5" y="768.5"/><use href="#d" x="969.5" y="657.5"/><use href="#d" x="969.5" y="767.5"/><use href="#d" x="969.5" y="152.5"/><use href="#d" x="969.5" y="157.5"/><use href="#d" x="969.5" y="161.5"/><use href="#d" x="969.5" y="184.5"/><use href="#d" x="969.5" y="184.5"/><use href="#d" x="969.5" y="224.5"/><use href="#d" x="969.5" y="235.5"/><use href="#d" x="969.5" y="260.5"/><use href="#d" x="969.5" y="316.5"/><use href="#d" x="969.5" y="329.5"/><use href="#d" x="969.5" y="365.5"/><use href="#d" x="969.5" y="768.5"/><use href="#d" x="981.5" y="666.5"/><use href="#d" x="981.5" y="151.5"/><use href="#d" x="981.5" y="153.5"/><use href="#d" x="981.5" y="155.5"/><use href="#d" x="981.5" y="159.5"/><use href="#d" x="981.5" y="160.5"/><use href="#d" x="981.5" y="170.5"/><use href="#d" x="981.5" y="224.5"/><use href="#d" x="981.5" y="262.5"/><use href="#d" x="981.5" y="264.5"/><use href="#d" x="981.5" y="324.5"/><use href="#d" x="981.5" y="362.5"/><use href="#d" x="981.5" y="370.5"/><use href="#d" x="981.5" y="517.5"/><use href="#d" x="981.5" y="526.5"/><use href="#d" x="981.5" y="768.5"/><use href="#d" x="994.5" y="666.5"/><use href="#d" x="994.5" y="768.5"/><use href="#d" x="994.5" y="151.5"/><use href="#d" x="994.5" y="157.5"/><use href="#d" x="994.5" y="161.5"/><use href="#d" x="994.5" y="170.5"/><use href="#d" x="994.5" y="181.5"/><use href="#d" x="994.5" y="198.5"/><use href="#d" x="994.5" y="243.5"/><use href="#d" x="994.5" y="264.5"/><use href="#d" x="994.5" y="324.5"/><use href="#d" x="994.5" y="339.5"/><use href="#d" x="994.5" y="398.5"/><use href="#d" x="994.5" y="517.5"/><use href="#d" x="994.5" y="517.5"/><use href="#d" x="994.5" y="576.5"/><use href="#d" x="994.5" y="768.5"/><use href="#d" x="1006.5" y="158.5"/><use href="#d" x="1006.5" y="160.5"/><use href="#d" x="1006.5" y="171.5"/><use href="#d" x="1006.5" y="175.5"/><use href="#d" x="1006.5" y="180.5"/><use href="#d" x="1006.5" y="185.5"/><use href="#d" x="1006.5" y="197.5"/><use href="#d" x="1006.5" y="204.5"/><use href="#d" x="1006.5" y="264.5"/><use href="#d" x="1006.5" y="528.5"/><use href="#d" x="1006.5" y="596.5"/><use href="#d" x="1006.5" y="768.5"/><use href="#d" x="1018.5" y="740.5"/><use href="#d" x="1018.5" y="744.5"/><use href="#d" x="1018.5" y="765.5"/><use href="#d" x="1018.5" y="150.5"/><use href="#d" x="1018.5" y="168.5"/><use href="#d" x="1018.5" y="170.5"/><use href="#d" x="1018.5" y="172.5"/><use href="#d" x="1018.5" y="176.5"/><use href="#d" x="1018.5" y="217.5"/><use href="#d" x="1018.5" y="353.5"/><use href="#d" x="1018.5" y="363.5"/><use href="#d" x="1018.5" y="465.5"/><use href="#d" x="1018.5" y="595.5"/><use href="#d" x="1018.5" y="768.5"/><use href="#d" x="1031.5" y="717.5"/><use href="#d" x="1031.5" y="765.5"/><use href="#d" x="1031.5" y="768.5"/><use href="#d" x="1031.5" y="157.5"/><use href="#d" x="1031.5" y="160.5"/><use href="#d" x="1031.5" y="168.5"/><use href="#d" x="1031.5" y="177.5"/><use href="#d" x="1031.5" y="195.5"/><use href="#d" x="1031.5" y="310.5"/><use href="#d" x="1031.5" y="377.5"/><use href="#d" x="1031.5" y="399.5"/><use href="#d" x="1031.5" y="768.5"/><use href="#d" x="1043.5" y="743.5"/><use href="#d" x="1043.5" y="744.5"/><use href="#d" x="1043.5" y="763.5"/><use href="#d" x="1043.5" y="155.5"/><use href="#d" x="1043.5" y="159.5"/><use href="#d" x="1043.5" y="165.5"/><use href="#d" x="1043.5" y="167.5"/><use href="#d" x="1043.5" y="293.5"/><use href="#d" x="1043.5" y="368.5"/><use href="#d" x="1043.5" y="375.5"/><use href="#d" x="1043.5" y="399.5"/><use href="#d" x="1043.5" y="401.5"/><use href="#d" x="1043.5" y="511.5"/><use href="#d" x="1043.5" y="570.5"/><use href="#d" x="1043.5" y="768.5"/><use href="#d" x="1056.5" y="742.5"/><use href="#d" x="1056.5" y="743.5"/><use href="#d" x="1056.5" y="748.5"/><use href="#d" x="1056.5" y="763.5"/><use href="#d" x="1056.5" y="165.5"/><use href="#d" x="1056.5" y="198.5"/><use href="#d" x="1056.5" y="211.5"/><use href="#d" x="1056.5" y="214.5"/><use href="#d" x="1056.5" y="240.5"/><use href="#d" x="1056.5" y="262.5"/><use href="#d" x="1056.5" y="293.5"/><use href="#d" x="1056.5" y="401.5"/><use href="#d" x="1056.5" y="511.5"/><use href="#d" x="1056.5" y="768.5"/><use href="#d" x="1068.5" y="684.5"/><use href="#d" x="1068.5" y="748.5"/><use href="#d" x="1068.5" y="763.5"/><use href="#d" x="1068.5" y="765.5"/><use href="#d" x="1068.5" y="155.5"/><use href="#d" x="1068.5" y="159.5"/><use href="#d" x="1068.5" y="176.5"/><use href="#d" x="1068.5" y="212.5"/><use href="#d" x="1068.5" y="231.5"/><use href="#d" x="1068.5" y="240.5"/><use href="#d" x="1068.5" y="325.5"/><use href="#d" x="1068.5" y="401.5"/><use href="#d" x="1068.5" y="511.5"/><use href="#d" x="1068.5" y="514.5"/><use href="#d" x="1068.5" y="514.5"/><use href="#d" x="1068.5" y="768.5"/><use href="#d" x="1080.5" y="720.5"/><use href="#d" x="1080.5" y="748.5"/><use href="#d" x="1080.5" y="155.5"/><use href="#d" x="1080.5" y="159.5"/><use href="#d" x="1080.5" y="168.5"/><use href="#d" x="1080.5" y="186.5"/><use href="#d" x="1080.5" y="204.5"/><use href="#d" x="1080.5" y="206.5"/><use href="#d" x="1080.5" y="231.5"/><use href="#d" x="1080.5" y="240.5"/><use href="#d" x="1080.5" y="240.5"/><use href="#d" x="1080.5" y="390.5"/><use href="#d" x="1080.5" y="401.5"/><use href="#d" x="1080.5" y="466.5"/><use href="#d" x="1080.5" y="514.5"/><use href="#d" x="1080.5" y="768.5"/><use href="#d" x="1093.5" y="738.5"/><use href="#d" x="1093.5" y="759.5"/><use href="#d" x="1093.5" y="761.5"/><use href="#d" x="1093.5" y="767.5"/><use href="#d" x="1093.5" y="156.5"/><use href="#d" x="1093.5" y="157.5"/><use href="#d" x="1093.5" y="157.5"/><use href="#d" x="1093.5" y="159.5"/><use href="#d" x="1093.5" y="168.5"/><use href="#d" x="1093.5" y="175.5"/><use href="#d" x="1093.5" y="186.5"/><use href="#d" x="1093.5" y="186.5"/><use href="#d" x="1093.5" y="204.5"/><use href="#d" x="1093.5" y="297.5"/><use href="#d" x="1093.5" y="570.5"/><use href="#d" x="1093.5" y="768.5"/><use href="#d" x="1105.5" y="725.5"/><use href="#d" x="1105.5" y="756.5"/><use href="#d" x="1105.5" y="761.5"/><use href="#d" x="1105.5" y="150.5"/><use href="#d" x="1105.5" y="156.5"/><use href="#d" x="1105.5" y="168.5"/><use href="#d" x="1105.5" y="175.5"/><use href="#d" x="1105.5" y="186.5"/><use href="#d" x="1105.5" y="204.5"/><use href="#d" x="1105.5" y="229.5"/><use href="#d" x="1105.5" y="308.5"/><use href="#d" x="1105.5" y="324.5"/><use href="#d" x="1105.5" y="463.5"/><use href="#d" x="1105.5" y="768.5"/><use href="#d" x="1118.5" y="151.5"/><use href="#d" x="1118.5" y="156.5"/><use href="#d" x="1118.5" y="158.5"/><use href="#d" x="1118.5" y="160.5"/><use href="#d" x="1118.5" y="163.5"/><use href="#d" x="1118.5" y="171.5"/><use href="#d" x="1118.5" y="177.5"/><use href="#d" x="1118.5" y="204.5"/><use href="#d" x="1118.5" y="388.5"/><use href="#d" x="1118.5" y="768.5"/><use href="#d" x="1130.5" y="150.5"/><use href="#d" x="1130.5" y="152.5"/><use href="#d" x="1130.5" y="172.5"/><use href="#d" x="1130.5" y="172.5"/><use href="#d" x="1130.5" y="197.5"/><use href="#d" x="1130.5" y="220.5"/><use href="#d" x="1130.5" y="276.5"/><use href="#d" x="1130.5" y="582.5"/><use href="#d" x="1130.5" y="768.5"/><use href="#d" x="1142.5" y="150.5"/><use href="#d" x="1142.5" y="154.5"/><use href="#d" x="1142.5" y="156.5"/><use href="#d" x="1142.5" y="300.5"/><use href="#d" x="1142.5" y="313.5"/><use href="#d" x="1142.5" y="316.5"/><use href="#d" x="1142.5" y="485.5"/><use href="#d" x="1142.5" y="540.5"/><use href="#d" x="1142.5" y="768.5"/><use href="#d" x="1155.5" y="150.5"/><use href="#d" x="1155.5" y="152.5"/><use href="#d" x="1155.5" y="154.5"/><use href="#d" x="1155.5" y="173.5"/><use href="#d" x="1155.5" y="216.5"/><use href="#d" x="1155.5" y="223.5"/><use href="#d" x="1155.5" y="297.5"/><use href="#d" x="1155.5" y="316.5"/><use href="#d" x="1155.5" y="322.5"/><use href="#d" x="1155.5" y="768.5"/><use href="#d" x="1167.5" y="150.5"/><use href="#d" x="1167.5" y="151.5"/><use href="#d" x="1167.5" y="153.5"/><use href="#d" x="1167.5" y="156.5"/><use href="#d" x="1167.5" y="163.5"/><use href="#d" x="1167.5" y="211.5"/><use href="#d" x="1167.5" y="295.5"/><use href="#d" x="1167.5" y="313.5"/><use href="#d" x="1167.5" y="322.5"/><use href="#d" x="1167.5" y="768.5"/><use href="#d" x="1180.5" y="153.5"/><use href="#d" x="1180.5" y="156.5"/><use href="#d" x="1180.5" y="180.5"/><use href="#d" x="1180.5" y="232.5"/><use href="#d" x="1180.5" y="251.5"/><use href="#d" x="1180.5" y="289.5"/><use href="#d" x="1180.5" y="296.5"/><use href="#d" x="1180.5" y="313.5"/><use href="#d" x="1180.5" y="313.5"/><use href="#d" x="1180.5" y="458.5"/><use href="#d" x="1180.5" y="465.5"/><use href="#d" x="1180.5" y="479.5"/><use href="#d" x="1180.5" y="768.5"/><use href="#d" x="1192.5" y="759.5"/><use href="#d" x="1192.5" y="153.5"/><use href="#d" x="1192.5" y="155.5"/><use href="#d" x="1192.5" y="155.5"/><use href="#d" x="1192.5" y="160.5"/><use href="#d" x="1192.5" y="180.5"/><use href="#d" x="1192.5" y="180.5"/><use href="#d" x="1192.5" y="224.5"/><use href="#d" x="1192.5" y="232.5"/><use href="#d" x="1192.5" y="232.5"/><use href="#d" x="1192.5" y="312.5"/><use href="#d" x="1192.5" y="458.5"/><use href="#d" x="1192.5" y="479.5"/><use href="#d" x="1192.5" y="768.5"/><use href="#d" x="1204.5" y="624.5"/><use href="#d" x="1204.5" y="759.5"/><use href="#d" x="1204.5" y="765.5"/><use href="#d" x="1204.5" y="767.5"/><use href="#d" x="1204.5" y="160.5"/><use href="#d" x="1204.5" y="179.5"/><use href="#d" x="1204.5" y="201.5"/><use href="#d" x="1204.5" y="203.5"/><use href="#d" x="1204.5" y="233.5"/><use href="#d" x="1204.5" y="319.5"/><use href="#d" x="1204.5" y="327.5"/><use href="#d" x="1204.5" y="330.5"/><use href="#d" x="1204.5" y="480.5"/><use href="#d" x="1204.5" y="586.5"/><use href="#d" x="1204.5" y="768.5"/><use href="#d" x="1217.5" y="760.5"/><use href="#d" x="1217.5" y="150.5"/><use href="#d" x="1217.5" y="155.5"/><use href="#d" x="1217.5" y="162.5"/><use href="#d" x="1217.5" y="179.5"/><use href="#d" x="1217.5" y="186.5"/><use href="#d" x="1217.5" y="188.5"/><use href="#d" x="1217.5" y="201.5"/><use href="#d" x="1217.5" y="201.5"/><use href="#d" x="1217.5" y="239.5"/><use href="#d" x="1217.5" y="260.5"/><use href="#d" x="1217.5" y="291.5"/><use href="#d" x="1217.5" y="291.5"/><use href="#d" x="1217.5" y="329.5"/><use href="#d" x="1217.5" y="407.5"/><use href="#d" x="1217.5" y="488.5"/><use href="#d" x="1217.5" y="768.5"/><use href="#d" x="1229.5" y="767.5"/><use href="#d" x="1229.5" y="156.5"/><use href="#d" x="1229.5" y="186.5"/><use href="#d" x="1229.5" y="191.5"/><use href="#d" x="1229.5" y="201.5"/><use href="#d" x="1229.5" y="232.5"/><use href="#d" x="1229.5" y="240.5"/><use href="#d" x="1229.5" y="240.5"/><use href="#d" x="1229.5" y="258.5"/><use href="#d" x="1229.5" y="290.5"/><use href="#d" x="1229.5" y="290.5"/><use href="#d" x="1229.5" y="392.5"/><use href="#d" x="1229.5" y="394.5"/><use href="#d" x="1229.5" y="424.5"/><use href="#d" x="1229.5" y="768.5"/><use href="#d" x="1242.5" y="641.5"/><use href="#d" x="1242.5" y="758.5"/><use href="#d" x="1242.5" y="766.5"/><use href="#d" x="1242.5" y="150.5"/><use href="#d" x="1242.5" y="156.5"/><use href="#d" x="1242.5" y="164.5"/><use href="#d" x="1242.5" y="168.5"/><use href="#d" x="1242.5" y="179.5"/><use href="#d" x="1242.5" y="201.5"/><use href="#d" x="1242.5" y="222.5"/><use href="#d" x="1242.5" y="240.5"/><use href="#d" x="1242.5" y="768.5"/><use href="#d" x="1254.5" y="641.5"/><use href="#d" x="1254.5" y="727.5"/><use href="#d" x="1254.5" y="751.5"/><use href="#d" x="1254.5" y="768.5"/><use href="#d" x="1266.5" y="637.5"/><use href="#d" x="1266.5" y="640.5"/><use href="#d" x="1266.5" y="751.5"/><use href="#d" x="1266.5" y="151.5"/><use href="#d" x="1266.5" y="157.5"/><use href="#d" x="1266.5" y="173.5"/><use href="#d" x="1266.5" y="271.5"/><use href="#d" x="1266.5" y="273.5"/><use href="#d" x="1266.5" y="354.5"/><use href="#d" x="1266.5" y="427.5"/><use href="#d" x="1266.5" y="768.5"/><use href="#d" x="1279.5" y="638.5"/><use href="#d" x="1279.5" y="638.5"/><use href="#d" x="1279.5" y="725.5"/><use href="#d" x="1279.5" y="765.5"/><use href="#d" x="1279.5" y="187.5"/><use href="#d" x="1279.5" y="215.5"/><use href="#d" x="1279.5" y="222.5"/><use href="#d" x="1279.5" y="222.5"/><use href="#d" x="1279.5" y="258.5"/><use href="#d" x="1279.5" y="261.5"/><use href="#d" x="1279.5" y="274.5"/><use href="#d" x="1279.5" y="311.5"/><use href="#d" x="1279.5" y="311.5"/><use href="#d" x="1279.5" y="768.5"/><use href="#d" x="1291.5" y="638.5"/><use href="#d" x="1291.5" y="737.5"/><use href="#d" x="1291.5" y="153.5"/><use href="#d" x="1291.5" y="162.5"/><use href="#d" x="1291.5" y="183.5"/><use href="#d" x="1291.5" y="211.5"/><use href="#d" x="1291.5" y="222.5"/><use href="#d" x="1291.5" y="237.5"/><use href="#d" x="1291.5" y="311.5"/><use href="#d" x="1291.5" y="311.5"/><use href="#d" x="1291.5" y="331.5"/><use href="#d" x="1291.5" y="333.5"/><use href="#d" x="1291.5" y="354.5"/><use href="#d" x="1291.5" y="375.5"/><use href="#d" x="1291.5" y="434.5"/><use href="#d" x="1291.5" y="768.5"/><use href="#d" x="1304.5" y="637.5"/><use href="#d" x="1304.5" y="150.5"/><use href="#d" x="1304.5" y="153.5"/><use href="#d" x="1304.5" y="153.5"/><use href="#d" x="1304.5" y="161.5"/><use href="#d" x="1304.5" y="175.5"/><use href="#d" x="1304.5" y="212.5"/><use href="#d" x="1304.5" y="222.5"/><use href="#d" x="1304.5" y="222.5"/><use href="#d" x="1304.5" y="334.5"/><use href="#d" x="1304.5" y="768.5"/><use href="#d" x="1316.5" y="151.5"/><use href="#d" x="1316.5" y="151.5"/><use href="#d" x="1316.5" y="161.5"/><use href="#d" x="1316.5" y="161.5"/><use href="#d" x="1316.5" y="212.5"/><use href="#d" x="1316.5" y="216.5"/><use href="#d" x="1316.5" y="222.5"/><use href="#d" x="1316.5" y="334.5"/><use href="#d" x="1316.5" y="768.5"/><use href="#d" x="1328.5" y="153.5"/><use href="#d" x="1328.5" y="179.5"/><use href="#d" x="1328.5" y="187.5"/><use href="#d" x="1328.5" y="216.5"/><use href="#d" x="1328.5" y="260.5"/><use href="#d" x="1328.5" y="311.5"/><use href="#d" x="1328.5" y="340.5"/><use href="#d" x="1328.5" y="473.5"/><use href="#d" x="1328.5" y="768.5"/><use href="#d" x="1341.5" y="756.5"/><use href="#d" x="1341.5" y="154.5"/><use href="#d" x="1341.5" y="168.5"/><use href="#d" x="1341.5" y="257.5"/><use href="#d" x="1341.5" y="340.5"/><use href="#d" x="1341.5" y="352.5"/><use href="#d" x="1341.5" y="396.5"/><use href="#d" x="1341.5" y="479.5"/><use href="#d" x="1341.5" y="768.5"/><use href="#d" x="1353.5" y="730.5"/><use href="#d" x="1353.5" y="756.5"/><use href="#d" x="1353.5" y="166.5"/><use href="#d" x="1353.5" y="252.5"/><use href="#d" x="1353.5" y="340.5"/><use href="#d" x="1353.5" y="464.5"/><use href="#d" x="1353.5" y="491.5"/><use href="#d" x="1353.5" y="768.5"/><use href="#d" x="1366.5" y="756.5"/><use href="#d" x="1366.5" y="762.5"/><use href="#d" x="1366.5" y="202.5"/><use href="#d" x="1366.5" y="204.5"/><use href="#d" x="1366.5" y="330.5"/><use href="#d" x="1366.5" y="396.5"/><use href="#d" x="1366.5" y="396.5"/><use href="#d" x="1366.5" y="491.5"/><use href="#d" x="1366.5" y="526.5"/><use href="#d" x="1366.5" y="768.5"/><use href="#d" x="1378.5" y="766.5"/><use href="#d" x="1378.5" y="150.5"/><use href="#d" x="1378.5" y="152.5"/><use href="#d" x="1378.5" y="157.5"/><use href="#d" x="1378.5" y="168.5"/><use href="#d" x="1378.5" y="168.5"/><use href="#d" x="1378.5" y="188.5"/><use href="#d" x="1378.5" y="199.5"/><use href="#d" x="1378.5" y="205.5"/><use href="#d" x="1378.5" y="252.5"/><use href="#d" x="1378.5" y="278.5"/><use href="#d" x="1378.5" y="330.5"/><use href="#d" x="1378.5" y="356.5"/><use href="#d" x="1378.5" y="396.5"/><use href="#d" x="1378.5" y="396.5"/><use href="#d" x="1378.5" y="454.5"/><use href="#d" x="1378.5" y="494.5"/><use href="#d" x="1378.5" y="504.5"/><use href="#d" x="1378.5" y="768.5"/><use href="#d" x="1390.5" y="183.5"/><use href="#d" x="1390.5" y="185.5"/><use href="#d" x="1390.5" y="199.5"/><use href="#d" x="1390.5" y="216.5"/><use href="#d" x="1390.5" y="230.5"/><use href="#d" x="1390.5" y="248.5"/><use href="#d" x="1390.5" y="252.5"/><use href="#d" x="1390.5" y="391.5"/><use href="#d" x="1390.5" y="472.5"/><use href="#d" x="1390.5" y="504.5"/><use href="#d" x="1390.5" y="768.5"/><use href="#d" x="1403.5" y="689.5"/><use href="#d" x="1403.5" y="695.5"/><use href="#d" x="1403.5" y="722.5"/><use href="#d" x="1403.5" y="766.5"/><use href="#d" x="1403.5" y="150.5"/><use href="#d" x="1403.5" y="166.5"/><use href="#d" x="1403.5" y="183.5"/><use href="#d" x="1403.5" y="209.5"/><use href="#d" x="1403.5" y="216.5"/><use href="#d" x="1403.5" y="216.5"/><use href="#d" x="1403.5" y="248.5"/><use href="#d" x="1403.5" y="768.5"/><use href="#d" x="1415.5" y="696.5"/><use href="#d" x="1415.5" y="724.5"/><use href="#d" x="1415.5" y="744.5"/><use href="#d" x="1415.5" y="752.5"/><use href="#d" x="1415.5" y="766.5"/><use href="#d" x="1415.5" y="768.5"/><use href="#d" x="1415.5" y="150.5"/><use href="#d" x="1415.5" y="170.5"/><use href="#d" x="1415.5" y="190.5"/><use href="#d" x="1415.5" y="252.5"/><use href="#d" x="1415.5" y="368.5"/><use href="#d" x="1415.5" y="434.5"/><use href="#d" x="1415.5" y="768.5"/><use href="#d" x="1428.5" y="747.5"/><use href="#d" x="1428.5" y="762.5"/><use href="#d" x="1428.5" y="156.5"/><use href="#d" x="1428.5" y="158.5"/><use href="#d" x="1428.5" y="167.5"/><use href="#d" x="1428.5" y="167.5"/><use href="#d" x="1428.5" y="183.5"/><use href="#d" x="1428.5" y="190.5"/><use href="#d" x="1428.5" y="267.5"/><use href="#d" x="1428.5" y="422.5"/><use href="#d" x="1428.5" y="768.5"/>
<use href="#G" x="200.5" y="769.5"/><use href="#G" x="212.5" y="769.5"/><use href="#G" x="225.5" y="769.5"/><use href="#G" x="237.5" y="769.5"/><use href="#G" x="250.5" y="769.5"/><use href="#G" x="262.5" y="769.5"/><use href="#G" x="274.5" y="769.5"/><use href="#G" x="287.5" y="769.5"/><use href="#G" x="299.5" y="769.5"/><use href="#G" x="312.5" y="769.5"/><use href="#G" x="324.5" y="769.5"/><use href="#G" x="336.5" y="769.5"/><use href="#G" x="349.5" y="769.5"/><use href="#G" x="361.5" y="769.5"/><use href="#G" x="374.5" y="769.5"/><use href="#G" x="386.5" y="769.5"/><use href="#G" x="398.5" y="769.5"/><use href="#G" x="411.5" y="769.5"/><use href="#G" x="423.5" y="769.5"/><use href="#G" x="436.5" y="769.5"/><use href="#G" x="448.5" y="769.5"/><use href="#G" x="460.5" y="769.5"/><use href="#G" x="473.5" y="769.5"/><use href="#G" x="485.5" y="769.5"/><use href="#G" x="498.5" y="769.5"/><use href="#G" x="510.5" y="769.5"/><use href="#G" x="522.5" y="769.5"/><use href="#G" x="535.5" y="769.5"/><use href="#G" x="547.5" y="769.5"/><use href="#G" x="560.5" y="769.5"/><use href="#G" x="572.5" y="769.5"/><use href="#G" x="584.5" y="769.5"/><use href="#G" x="597.5" y="769.5"/><use href="#G" x="609.5" y="769.5"/><use href="#G" x="622.5" y="769.5"/><use href="#G" x="634.5" y="769.5"/><use href="#G" x="646.5" y="769.5"/><use href="#G" x="659.5" y="769.5"/><use href="#G" x="671.5" y="769.5"/><use href="#G" x="684.5" y="769.5"/><use href="#G" x="696.5" y="769.5"/><use href="#G" x="708.5" y="769.5"/><use href="#G" x="721.5" y="769.5"/><use href="#G" x="733.5" y="769.5"/><use href="#G" x="746.5" y="769.5"/><use href="#G" x="758.5" y="769.5"/><use href="#G" x="770.5" y="769.5"/><use href="#G" x="783.5" y="769.5"/><use href="#G" x="795.5" y="769.5"/><use href="#G" x="808.5" y="769.5"/><use href="#G" x="820.5" y="769.5"/><use href="#G" x="832.5" y="769.5"/><use href="#G" x="845.5" y="769.5"/><use href="#G" x="857.5" y="769.5"/><use href="#G" x="870.5" y="769.5"/><use href="#G" x="882.5" y="769.5"/><use href="#G" x="894.5" y="769.5"/><use href="#G" x="907.5" y="769.5"/><use href="#G" x="919.5" y="769.5"/><use href="#G" x="932.5" y="769.5"/><use href="#G" x="944.5" y="769.5"/><use href="#G" x="956.5" y="769.5"/><use href="#G" x="969.5" y="769.5"/><use href="#G" x="981.5" y="769.5"/><use href="#G" x="994.5" y="769.5"/><use href="#G" x="1006.5" y="769.5"/><use href="#G" x="1018.5" y="769.5"/><use href="#G" x="1031.5" y="769.5"/><use href="#G" x="1043.5" y="769.5"/><use href="#G" x="1056.5" y="769.5"/><use href="#G" x="1068.5" y="769.5"/><use href="#G" x="1080.5" y="769.5"/><use href="#G" x="1093.5" y="769.5"/><use href="#G" x="1105.5" y="769.5"/><use href="#G" x="1118.5" y="769.5"/><use href="#G" x="1130.5" y="769.5"/><use href="#G" x="1142.5" y="769.5"/><use href="#G" x="1155.5" y="769.5"/><use href="#G" x="1167.5" y="769.5"/><use href="#G" x="1180.5" y="769.5"/><use href="#G" x="1192.5" y="769.5"/><use href="#G" x="1204.5" y="769.5"/><use href="#G" x="1217.5" y="769.5"/><use href="#G" x="1229.5" y="769.5"/><use href="#G" x="1242.5" y="769.5"/><use href="#G" x="1254.5" y="769.5"/><use href="#G" x="1266.5" y="769.5"/><use href="#G" x="1279.5" y="769.5"/><use href="#G" x="1291.5" y="769.5"/><use href="#G" x="1304.5" y="769.5"/><use href="#G" x="1316.5" y="769.5"/><use href="#G" x="1328.5" y="769.5"/><use href="#G" x="1341.5" y="769.5"/><use href="#G" x="1353.5" y="769.5"/><use href="#G" x="1366.5" y="769.5"/><use href="#G" x="1378.5" y="769.5"/><use href="#G" x="1390.5" y="769.5"/><use href="#G" x="1403.5" y="769.5"/><use href="#G" x="1415.5" y="769.5"/><use href="#G" x="1428.5" y="769.5"/>
<use href="#s" x="200.5" y="768.5"/><use href="#s" x="200.5" y="769.5"/><use href="#s" x="212.5" y="755.5"/><use href="#s" x="212.5" y="759.5"/><use href="#s" x="212.5" y="763.5"/><use href="#s" x="212.5" y="767.5"/><use href="#s" x="225.5" y="713.5"/><use href="#s" x="225.5" y="735.5"/><use href="#s" x="225.5" y="764.5"/><use href="#s" x="225.5" y="766.5"/><use href="#s" x="237.5" y="713.5"/><use href="#s" x="237.5" y="729.5"/><use href="#s" x="237.5" y="760.5"/><use href="#s" x="237.5" y="767.5"/><use href="#s" x="237.5" y="768.5"/><use href="#s" x="237.5" y="769.5"/><use href="#s" x="250.5" y="718.5"/><use href="#s" x="250.5" y="722.5"/><use href="#s" x="250.5" y="759.5"/><use href="#s" x="250.5" y="768.5"/><use href="#s" x="250.5" y="769.5"/><use href="#s" x="262.5" y="691.5"/><use href="#s" x="262.5" y="723.5"/><use href="#s" x="262.5" y="735.5"/><use href="#s" x="262.5" y="749.5"/><use href="#s" x="262.5" y="759.5"/><use href="#s" x="262.5" y="762.5"/><use href="#s" x="274.5" y="719.5"/><use href="#s" x="274.5" y="739.5"/><use href="#s" x="274.5" y="749.5"/><use href="#s" x="274.5" y="750.5"/><use href="#s" x="287.5" y="719.5"/><use href="#s" x="287.5" y="722.5"/><use href="#s" x="287.5" y="735.5"/><use href="#s" x="287.5" y="742.5"/><use href="#s" x="287.5" y="750.5"/><use href="#s" x="287.5" y="758.5"/><use href="#s" x="299.5" y="704.5"/><use href="#s" x="299.5" y="727.5"/><use href="#s" x="299.5" y="728.5"/><use href="#s" x="299.5" y="737.5"/><use href="#s" x="299.5" y="753.5"/><use href="#s" x="299.5" y="664.5"/><use href="#s" x="312.5" y="704.5"/><use href="#s" x="312.5" y="715.5"/><use href="#s" x="312.5" y="719.5"/><use href="#s" x="312.5" y="657.5"/><use href="#s" x="312.5" y="768.5"/><use href="#s" x="312.5" y="769.5"/><use href="#s" x="324.5" y="708.5"/><use href="#s" x="324.5" y="711.5"/><use href="#s" x="324.5" y="732.5"/><use href="#s" x="324.5" y="746.5"/><use href="#s" x="324.5" y="684.5"/><use href="#s" x="336.5" y="524.5"/><use href="#s" x="336.5" y="701.5"/><use href="#s" x="336.5" y="708.5"/><use href="#s" x="336.5" y="718.5"/><use href="#s" x="336.5" y="682.5"/><use href="#s" x="336.5" y="768.5"/><use href="#s" x="336.5" y="769.5"/><use href="#s" x="349.5" y="401.5"/><use href="#s" x="349.5" y="698.5"/><use href="#s" x="349.5" y="702.5"/><use href="#s" x="349.5" y="662.5"/><use href="#s" x="349.5" y="675.5"/><use href="#s" x="349.5" y="680.5"/><use href="#s" x="349.5" y="682.5"/><use href="#s" x="361.5" y="401.5"/><use href="#s" x="361.5" y="657.5"/><use href="#s" x="361.5" y="670.5"/><use href="#s" x="361.5" y="675.5"/><use href="#s" x="361.5" y="692.5"/><use href="#s" x="374.5" y="593.5"/><use href="#s" x="374.5" y="664.5"/><use href="#s" x="374.5" y="699.5"/><use href="#s" x="374.5" y="718.5"/><use href="#s" x="386.5" y="389.5"/><use href="#s" x="386.5" y="441.5"/><use href="#s" x="386.5" y="564.5"/><use href="#s" x="386.5" y="596.5"/><use href="#s" x="386.5" y="624.5"/><use href="#s" x="386.5" y="718.5"/><use href="#s" x="398.5" y="558.5"/><use href="#s" x="398.5" y="570.5"/><use href="#s" x="398.5" y="572.5"/><use href="#s" x="398.5" y="628.5"/><use href="#s" x="398.5" y="637.5"/><use href="#s" x="398.5" y="768.5"/><use href="#s" x="398.5" y="769.5"/><use href="#s" x="411.5" y="376.5"/><use href="#s" x="411.5" y="450.5"/><use href="#s" x="411.5" y="510.5"/><use href="#s" x="411.5" y="626.5"/><use href="#s" x="411.5" y="656.5"/><use href="#s" x="411.5" y="768.5"/><use href="#s" x="411.5" y="769.5"/><use href="#s" x="423.5" y="344.5"/><use href="#s" x="423.5" y="398.5"/><use href="#s" x="423.5" y="434.5"/><use href="#s" x="423.5" y="535.5"/><use href="#s" x="423.5" y="575.5"/><use href="#s" x="423.5" y="764.5"/><use href="#s" x="436.5" y="321.5"/><use href="#s" x="436.5" y="328.5"/><use href="#s" x="436.5" y="365.5"/><use href="#s" x="436.5" y="376.5"/><use href="#s" x="436.5" y="488.5"/><use href="#s" x="448.5" y="301.5"/><use href="#s" x="448.5" y="328.5"/><use href="#s" x="448.5" y="386.5"/><use href="#s" x="448.5" y="412.5"/><use href="#s" x="448.5" y="444.5"/><use href="#s" x="460.5" y="310.5"/><use href="#s" x="460.5" y="321.5"/><use href="#s" x="460.5" y="377.5"/><use href="#s" x="460.5" y="414.5"/><use href="#s" x="460.5" y="768.5"/><use href="#s" x="460.5" y="769.5"/><use href="#s" x="473.5" y="305.5"/><use href="#s" x="473.5" y="313.5"/><use href="#s" x="473.5" y="360.5"/><use href="#s" x="473.5" y="377.5"/><use href="#s" x="473.5" y="558.5"/><use href="#s" x="473.5" y="768.5"/><use href="#s" x="473.5" y="769.5"/><use href="#s" x="485.5" y="310.5"/><use href="#s" x="485.5" y="316.5"/><use href="#s" x="485.5" y="319.5"/><use href="#s" x="485.5" y="351.5"/><use href="#s" x="485.5" y="667.5"/><use href="#s" x="485.5" y="768.5"/><use href="#s" x="485.5" y="769.5"/><use href="#s" x="498.5" y="304.5"/><use href="#s" x="498.5" y="308.5"/><use href="#s" x="498.5" y="317.5"/><use href="#s" x="498.5" y="331.5"/><use href="#s" x="498.5" y="338.5"/><use href="#s" x="498.5" y="768.5"/><use href="#s" x="498.5" y="769.5"/><use href="#s" x="510.5" y="283.5"/><use href="#s" x="510.5" y="305.5"/><use href="#s" x="510.5" y="311.5"/><use href="#s" x="510.5" y="384.5"/><use href="#s" x="510.5" y="519.5"/><use href="#s" x="522.5" y="280.5"/><use href="#s" x="522.5" y="282.5"/><use href="#s" x="522.5" y="299.5"/><use href="#s" x="522.5" y="304.5"/><use href="#s" x="522.5" y="768.5"/><use href="#s" x="522.5" y="769.5"/><use href="#s" x="535.5" y="731.5"/><use href="#s" x="535.5" y="275.5"/><use href="#s" x="535.5" y="279.5"/><use href="#s" x="535.5" y="294.5"/><use href="#s" x="535.5" y="298.5"/><use href="#s" x="535.5" y="618.5"/><use href="#s" x="547.5" y="270.5"/><use href="#s" x="547.5" y="282.5"/><use href="#s" x="547.5" y="290.5"/><use href="#s" x="547.5" y="295.5"/><use href="#s" x="547.5" y="300.5"/><use href="#s" x="547.5" y="336.5"/><use href="#s" x="560.5" y="731.5"/><use href="#s" x="560.5" y="270.5"/><use href="#s" x="560.5" y="280.5"/><use href="#s" x="560.5" y="293.5"/><use href="#s" x="560.5" y="304.5"/><use href="#s" x="560.5" y="768.5"/><use href="#s" x="560.5" y="769.5"/><use href="#s" x="572.5" y="267.5"/><use href="#s" x="572.5" y="270.5"/><use href="#s" x="572.5" y="275.5"/><use href="#s" x="572.5" y="280.5"/><use href="#s" x="572.5" y="289.5"/><use href="#s" x="572.5" y="293.5"/><use href="#s" x="584.5" y="265.5"/><use href="#s" x="584.5" y="273.5"/><use href="#s" x="584.5" y="275.5"/><use href="#s" x="584.5" y="278.5"/><use href="#s" x="584.5" y="281.5"/><use href="#s" x="584.5" y="285.5"/><use href="#s" x="584.5" y="768.5"/><use href="#s" x="584.5" y="769.5"/><use href="#s" x="597.5" y="275.5"/><use href="#s" x="597.5" y="289.5"/><use href="#s" x="597.5" y="248.5"/><use href="#s" x="609.5" y="263.5"/><use href="#s" x="609.5" y="274.5"/><use href="#s" x="609.5" y="275.5"/><use href="#s" x="609.5" y="768.5"/><use href="#s" x="609.5" y="769.5"/><use href="#s" x="622.5" y="266.5"/><use href="#s" x="622.5" y="270.5"/><use href="#s" x="622.5" y="272.5"/><use href="#s" x="622.5" y="275.5"/><use href="#s" x="622.5" y="277.5"/><use href="#s" x="622.5" y="244.5"/><use href="#s" x="634.5" y="257.5"/><use href="#s" x="634.5" y="267.5"/><use href="#s" x="634.5" y="276.5"/><use href="#s" x="634.5" y="153.5"/><use href="#s" x="634.5" y="246.5"/><use href="#s" x="646.5" y="266.5"/><use href="#s" x="646.5" y="275.5"/><use href="#s" x="646.5" y="154.5"/><use href="#s" x="646.5" y="244.5"/><use href="#s" x="659.5" y="254.5"/><use href="#s" x="659.5" y="270.5"/><use href="#s" x="659.5" y="153.5"/><use href="#s" x="659.5" y="156.5"/><use href="#s" x="659.5" y="159.5"/><use href="#s" x="671.5" y="155.5"/><use href="#s" x="671.5" y="160.5"/><use href="#s" x="671.5" y="248.5"/><use href="#s" x="671.5" y="275.5"/><use href="#s" x="671.5" y="768.5"/><use href="#s" x="671.5" y="769.5"/><use href="#s" x="684.5" y="152.5"/><use href="#s" x="684.5" y="155.5"/><use href="#s" x="684.5" y="166.5"/><use href="#s" x="684.5" y="173.5"/><use href="#s" x="684.5" y="356.5"/><use href="#s" x="684.5" y="768.5"/><use href="#s" x="684.5" y="769.5"/><use href="#s" x="696.5" y="151.5"/><use href="#s" x="696.5" y="161.5"/><use href="#s" x="696.5" y="166.5"/><use href="#s" x="696.5" y="305.5"/><use href="#s" x="696.5" y="309.5"/><use href="#s" x="708.5" y="150.5"/><use href="#s" x="708.5" y="153.5"/><use href="#s" x="708.5" y="160.5"/><use href="#s" x="708.5" y="244.5"/><use href="#s" x="721.5" y="151.5"/><use href="#s" x="721.5" y="155.5"/><use href="#s" x="721.5" y="157.5"/><use href="#s" x="721.5" y="160.5"/><use href="#s" x="733.5" y="150.5"/><use href="#s" x="733.5" y="153.5"/><use href="#s" x="746.5" y="150.5"/><use href="#s" x="746.5" y="152.5"/><use href="#s" x="746.5" y="258.5"/><use href="#s" x="758.5" y="150.5"/><use href="#s" x="770.5" y="149.5"/><use href="#s" x="770.5" y="150.5"/><use href="#s" x="783.5" y="148.5"/><use href="#s" x="783.5" y="150.5"/><use href="#s" x="795.5" y="148.5"/><use href="#s" x="795.5" y="150.5"/><use href="#s" x="808.5" y="148.5"/><use href="#s" x="808.5" y="150.5"/><use href="#s" x="808.5" y="768.5"/><use href="#s" x="808.5" y="769.5"/><use href="#s" x="820.5" y="147.5"/><use href="#s" x="820.5" y="150.5"/><use href="#s" x="832.5" y="147.5"/><use href="#s" x="832.5" y="149.5"/><use href="#s" x="832.5" y="214.5"/><use href="#s" x="832.5" y="768.5"/><use href="#s" x="832.5" y="769.5"/><use href="#s" x="845.5" y="146.5"/><use href="#s" x="845.5" y="149.5"/><use href="#s" x="857.5" y="146.5"/><use href="#s" x="857.5" y="149.5"/><use href="#s" x="857.5" y="768.5"/><use href="#s" x="857.5" y="769.5"/><use href="#s" x="870.5" y="146.5"/><use href="#s" x="870.5" y="149.5"/><use href="#s" x="882.5" y="146.5"/><use href="#s" x="882.5" y="149.5"/><use href="#s" x="882.5" y="201.5"/><use href="#s" x="882.5" y="768.5"/><use href="#s" x="882.5" y="769.5"/><use href="#s" x="894.5" y="146.5"/><use href="#s" x="894.5" y="768.5"/><use href="#s" x="894.5" y="769.5"/><use href="#s" x="907.5" y="146.5"/><use href="#s" x="907.5" y="258.5"/><use href="#s" x="919.5" y="146.5"/><use href="#s" x="932.5" y="146.5"/><use href="#s" x="932.5" y="768.5"/><use href="#s" x="932.5" y="769.5"/><use href="#s" x="944.5" y="146.5"/><use href="#s" x="944.5" y="445.5"/><use href="#s" x="956.5" y="146.5"/><use href="#s" x="956.5" y="768.5"/><use href="#s" x="956.5" y="769.5"/><use href="#s" x="969.5" y="145.5"/><use href="#s" x="969.5" y="173.5"/><use href="#s" x="969.5" y="768.5"/><use href="#s" x="969.5" y="769.5"/><use href="#s" x="981.5" y="145.5"/><use href="#s" x="994.5" y="145.5"/><use href="#s" x="1006.5" y="145.5"/><use href="#s" x="1006.5" y="324.5"/><use href="#s" x="1018.5" y="145.5"/><use href="#s" x="1018.5" y="157.5"/><use href="#s" x="1018.5" y="768.5"/><use href="#s" x="1018.5" y="769.5"/><use href="#s" x="1031.5" y="744.5"/><use href="#s" x="1031.5" y="145.5"/><use href="#s" x="1031.5" y="363.5"/><use href="#s" x="1043.5" y="145.5"/><use href="#s" x="1043.5" y="768.5"/><use href="#s" x="1043.5" y="769.5"/><use href="#s" x="1056.5" y="145.5"/><use href="#s" x="1056.5" y="158.5"/><use href="#s" x="1056.5" y="768.5"/><use href="#s" x="1056.5" y="769.5"/><use href="#s" x="1068.5" y="145.5"/><use href="#s" x="1068.5" y="768.5"/><use href="#s" x="1068.5" y="769.5"/><use href="#s" x="1080.5" y="145.5"/><use href="#s" x="1080.5" y="768.5"/><use href="#s" x="1080.5" y="769.5"/><use href="#s" x="1093.5" y="145.5"/><use href="#s" x="1105.5" y="145.5"/><use href="#s" x="1105.5" y="160.5"/><use href="#s" x="1105.5" y="768.5"/><use href="#s" x="1105.5" y="769.5"/><use href="#s" x="1118.5" y="145.5"/><use href="#s" x="1118.5" y="768.5"/><use href="#s" x="1118.5" y="769.5"/><use href="#s" x="1130.5" y="145.5"/><use href="#s" x="1130.5" y="157.5"/><use href="#s" x="1130.5" y="768.5"/><use href="#s" x="1130.5" y="769.5"/><use href="#s" x="1142.5" y="145.5"/><use href="#s" x="1155.5" y="145.5"/><use href="#s" x="1155.5" y="768.5"/><use href="#s" x="1155.5" y="769.5"/><use href="#s" x="1167.5" y="145.5"/><use href="#s" x="1180.5" y="145.5"/><use href="#s" x="1192.5" y="145.5"/><use href="#s" x="1204.5" y="145.5"/><use href="#s" x="1204.5" y="154.5"/><use href="#s" x="1217.5" y="145.5"/><use href="#s" x="1217.5" y="233.5"/><use href="#s" x="1229.5" y="145.5"/><use href="#s" x="1229.5" y="329.5"/><use href="#s" x="1242.5" y="145.5"/><use href="#s" x="1242.5" y="768.5"/><use href="#s" x="1242.5" y="769.5"/><use href="#s" x="1254.5" y="145.5"/><use href="#s" x="1254.5" y="768.5"/><use href="#s" x="1254.5" y="769.5"/><use href="#s" x="1266.5" y="145.5"/><use href="#s" x="1266.5" y="768.5"/><use href="#s" x="1266.5" y="769.5"/><use href="#s" x="1279.5" y="145.5"/><use href="#s" x="1279.5" y="354.5"/><use href="#s" x="1291.5" y="145.5"/><use href="#s" x="1291.5" y="187.5"/><use href="#s" x="1304.5" y="145.5"/><use href="#s" x="1304.5" y="768.5"/><use href="#s" x="1304.5" y="769.5"/><use href="#s" x="1316.5" y="145.5"/><use href="#s" x="1328.5" y="145.5"/><use href="#s" x="1341.5" y="145.5"/><use href="#s" x="1341.5" y="768.5"/><use href="#s" x="1341.5" y="769.5"/><use href="#s" x="1353.5" y="145.5"/><use href="#s" x="1353.5" y="396.5"/><use href="#s" x="1353.5" y="768.5"/><use href="#s" x="1353.5" y="769.5"/><use href="#s" x="1366.5" y="145.5"/><use href="#s" x="1378.5" y="145.5"/><use href="#s" x="1378.5" y="768.5"/><use href="#s" x="1378.5" y="769.5"/><use href="#s" x="1390.5" y="145.5"/><use href="#s" x="1390.5" y="768.5"/><use href="#s" x="1390.5" y="769.5"/><use href="#s" x="1403.5" y="145.5"/><use href="#s" x="1403.5" y="768.5"/><use href="#s" x="1403.5" y="769.5"/><use href="#s" x="1415.5" y="145.5"/><use href="#s" x="1428.5" y="145.5"/><use href="#s" x="1428.5" y="768.5"/><use href="#s" x="1428.5" y="769.5"/>
<polyline fill="none" stroke="#000" stroke-opacity="0.5" stroke-width="2.1" stroke-linejoin="round" stroke-linecap="square" points="200.20,724.0 212.60,712.5 225.00,676.5 237.40,597.4 249.80,593.0 262.20,660.0 274.60,631.5 287.00,664.5 299.40,444.4 311.80,444.4 324.20,444.4 336.60,401.0 349.00,401.0 361.40,400.0 373.80,378.0 386.20,290.4 398.60,295.2 411.00,294.4 423.40,286.0 435.80,264.3 448.20,284.1 460.60,286.3 473.00,278.5 485.40,273.0 497.80,274.6 510.20,268.3 522.60,266.7 535.00,266.3 547.40,267.2 559.80,244.2 572.20,255.0 584.60,246.7 597.00,246.3 609.40,174.2 621.80,153.0 634.20,152.9 646.60,151.7 659.00,151.3 671.40,148.2 683.80,150.0 696.20,149.2 708.60,148.0 721.00,147.3 733.40,147.1 745.80,147.0 758.20,146.8 770.60,146.6 783.00,146.3 795.40,146.1 807.80,145.9 820.20,145.8 832.60,145.7 845.00,145.5 857.40,145.5 869.80,145.5 882.20,145.5 894.60,145.5 907.00,145.5 919.40,145.5 931.80,145.5 944.20,145.2 956.60,145.2 969.00,145.2 981.40,145.2 993.80,145.2 1006.20,145.2 1018.60,145.2 1031.00,145.2 1043.40,145.2 1055.80,145.2 1068.20,145.2 1080.60,145.2 1093.00,145.2 1105.40,145.2 1117.80,145.2 1130.20,145.2 1142.60,145.2 1155.00,145.2 1167.40,145.2 1179.80,145.2 1192.20,145.2 1204.60,145.2 1217.00,145.2 1229.40,145.2 1241.80,145.2 1254.20,145.2 1266.60,145.2 1279.00,145.2 1291.40,145.2 1303.80,145.2 1316.20,145.2 1328.60,145.2 1341.00,145.2 1353.40,145.2 1365.80,145.2 1378.20,145.2 1390.60,145.2 1403.00,145.2 1415.40,145.2 1427.80,145.2"/>
<polyline fill="none" stroke="#000" stroke-opacity="0.5" stroke-width="2.1" stroke-linejoin="round" stroke-dasharray="7.7 3.3" points="200.20,765.5 212.60,763.0 225.00,759.5 237.40,756.0 249.80,750.0 262.20,748.5 274.60,743.5 287.00,739.5 299.40,733.0 311.80,724.0 324.20,712.0 336.60,694.5 349.00,683.0 361.40,674.0 373.80,663.0 386.20,655.0 398.60,655.7 411.00,618.0 423.40,602.0 435.80,555.0 448.20,522.0 460.60,512.0 473.00,506.0 485.40,494.0 497.80,457.0 510.20,450.8 522.60,443.0 535.00,437.5 547.40,432.5 559.80,437.5 572.20,475.8 584.60,452.5 597.00,451.7 609.40,434.7 621.80,435.8 634.20,395.8 646.60,389.0 659.00,377.0 671.40,365.6 683.80,407.0 696.20,380.0 708.60,400.0 721.00,353.0 733.40,356.0 745.80,312.6 758.20,337.0 770.60,317.0 783.00,327.0 795.40,377.0 807.80,395.0 820.20,369.0 832.60,384.0 845.00,357.0 857.40,340.0 869.80,317.0 882.20,313.0 894.60,345.0 907.00,338.0 919.40,349.0 931.80,375.4 944.20,385.0 956.60,403.0 969.00,360.0 981.40,373.0 993.80,359.0 1006.20,341.4 1018.60,379.0 1031.00,364.0 1043.40,390.4 1055.80,392.0 1068.20,375.0 1080.60,363.0 1093.00,398.5 1105.40,345.0 1117.80,319.0 1130.20,304.4 1142.60,327.0 1155.00,317.0 1167.40,298.4 1179.80,313.0 1192.20,307.0 1204.60,370.0 1217.00,338.0 1229.40,370.0 1241.80,352.4 1254.20,393.0 1266.60,368.0 1279.00,370.0 1291.40,351.0 1303.80,350.0 1316.20,326.0 1328.60,361.0 1341.00,406.0 1353.40,387.0 1365.80,352.0 1378.20,374.0 1390.60,360.0 1403.00,366.0 1415.40,413.0 1427.80,368.0"/>
</g>
<rect x="200.5" y="108.5" width="1240.0" height="693.0" fill="none" stroke="#000" stroke-width="1.1"/>
<g stroke="#000" stroke-width="1.1">
<line x1="200.5" y1="801.5" x2="200.5" y2="806.5"/>
<line x1="448.5" y1="801.5" x2="448.5" y2="806.5"/>
<line x1="696.5" y1="801.5" x2="696.5" y2="806.5"/>
<line x1="944.5" y1="801.5" x2="944.5" y2="806.5"/>
<line x1="1192.5" y1="801.5" x2="1192.5" y2="806.5"/>
<line x1="1440.5" y1="801.5" x2="1440.5" y2="806.5"/>
<line x1="195.5" y1="770.5" x2="200.5" y2="770.5"/>
<line x1="195.5" y1="644.5" x2="200.5" y2="644.5"/>
<line x1="195.5" y1="518.5" x2="200.5" y2="518.5"/>
<line x1="195.5" y1="391.5" x2="200.5" y2="391.5"/>
<line x1="195.5" y1="266.5" x2="200.5" y2="266.5"/>
<line x1="195.5" y1="139.5" x2="200.5" y2="139.5"/>
</g><g stroke="#000" stroke-width="0.85">
<line x1="262.5" y1="801.5" x2="262.5" y2="804.5"/>
<line x1="324.5" y1="801.5" x2="324.5" y2="804.5"/>
<line x1="386.5" y1="801.5" x2="386.5" y2="804.5"/>
<line x1="510.5" y1="801.5" x2="510.5" y2="804.5"/>
<line x1="572.5" y1="801.5" x2="572.5" y2="804.5"/>
<line x1="634.5" y1="801.5" x2="634.5" y2="804.5"/>
<line x1="758.5" y1="801.5" x2="758.5" y2="804.5"/>
<line x1="820.5" y1="801.5" x2="820.5" y2="804.5"/>
<line x1="882.5" y1="801.5" x2="882.5" y2="804.5"/>
<line x1="1006.5" y1="801.5" x2="1006.5" y2="804.5"/>
<line x1="1068.5" y1="801.5" x2="1068.5" y2="804.5"/>
<line x1="1130.5" y1="801.5" x2="1130.5" y2="804.5"/>
<line x1="1254.5" y1="801.5" x2="1254.5" y2="804.5"/>
<line x1="1316.5" y1="801.5" x2="1316.5" y2="804.5"/>
<line x1="1378.5" y1="801.5" x2="1378.5" y2="804.5"/>
<line x1="197.5" y1="738.5" x2="200.5" y2="738.5"/>
<line x1="197.5" y1="706.5" x2="200.5" y2="706.5"/>
<line x1="197.5" y1="675.5" x2="200.5" y2="675.5"/>
<line x1="197.5" y1="612.5" x2="200.5" y2="612.5"/>
<line x1="197.5" y1="580.5" x2="200.5" y2="580.5"/>
<line x1="197.5" y1="549.5" x2="200.5" y2="549.5"/>
<line x1="197.5" y1="486.5" x2="200.5" y2="486.5"/>
<line x1="197.5" y1="454.5" x2="200.5" y2="454.5"/>
<line x1="197.5" y1="423.5" x2="200.5" y2="423.5"/>
<line x1="197.5" y1="360.5" x2="200.5" y2="360.5"/>
<line x1="197.5" y1="328.5" x2="200.5" y2="328.5"/>
<line x1="197.5" y1="297.5" x2="200.5" y2="297.5"/>
<line x1="197.5" y1="234.5" x2="200.5" y2="234.5"/>
<line x1="197.5" y1="202.5" x2="200.5" y2="202.5"/>
<line x1="197.5" y1="171.5" x2="200.5" y2="171.5"/>
</g>
<g opacity="0.999"><g font-size="14">
<text x="200.0" y="821.8" text-anchor="middle" textLength="8.8" lengthAdjust="spacingAndGlyphs">0</text>
<text x="448.0" y="821.8" text-anchor="middle" textLength="17.7" lengthAdjust="spacingAndGlyphs">20</text>
<text x="696.0" y="821.8" text-anchor="middle" textLength="17.7" lengthAdjust="spacingAndGlyphs">40</text>
<text x="944.0" y="821.8" text-anchor="middle" textLength="17.7" lengthAdjust="spacingAndGlyphs">60</text>
<text x="1192.0" y="821.8" text-anchor="middle" textLength="17.7" lengthAdjust="spacingAndGlyphs">80</text>
<text x="1440.0" y="821.8" text-anchor="middle" textLength="26.5" lengthAdjust="spacingAndGlyphs">100</text>
<text x="190.6" y="775.9" text-anchor="end" textLength="22.1" lengthAdjust="spacingAndGlyphs">0.0</text>
<text x="190.6" y="649.9" text-anchor="end" textLength="22.1" lengthAdjust="spacingAndGlyphs">0.2</text>
<text x="190.6" y="523.9" text-anchor="end" textLength="22.1" lengthAdjust="spacingAndGlyphs">0.4</text>
<text x="190.6" y="396.9" text-anchor="end" textLength="22.1" lengthAdjust="spacingAndGlyphs">0.6</text>
<text x="190.6" y="271.9" text-anchor="end" textLength="22.1" lengthAdjust="spacingAndGlyphs">0.8</text>
<text x="190.6" y="144.9" text-anchor="end" textLength="22.1" lengthAdjust="spacingAndGlyphs">1.0</text>
</g>
<text x="819.9" y="840.9" text-anchor="middle" font-size="14" textLength="83.6" lengthAdjust="spacingAndGlyphs">Generations</text>
<text transform="translate(159.3,455.7) rotate(-90)" text-anchor="middle" font-size="14" textLength="96.8" lengthAdjust="spacingAndGlyphs">Fitness Scores</text>
<text x="820.2" y="99.6" text-anchor="middle" font-size="17.2" textLength="271.5" lengthAdjust="spacingAndGlyphs">Non-Linear Bicone Evolution test</text></g>
</svg></body></html>
